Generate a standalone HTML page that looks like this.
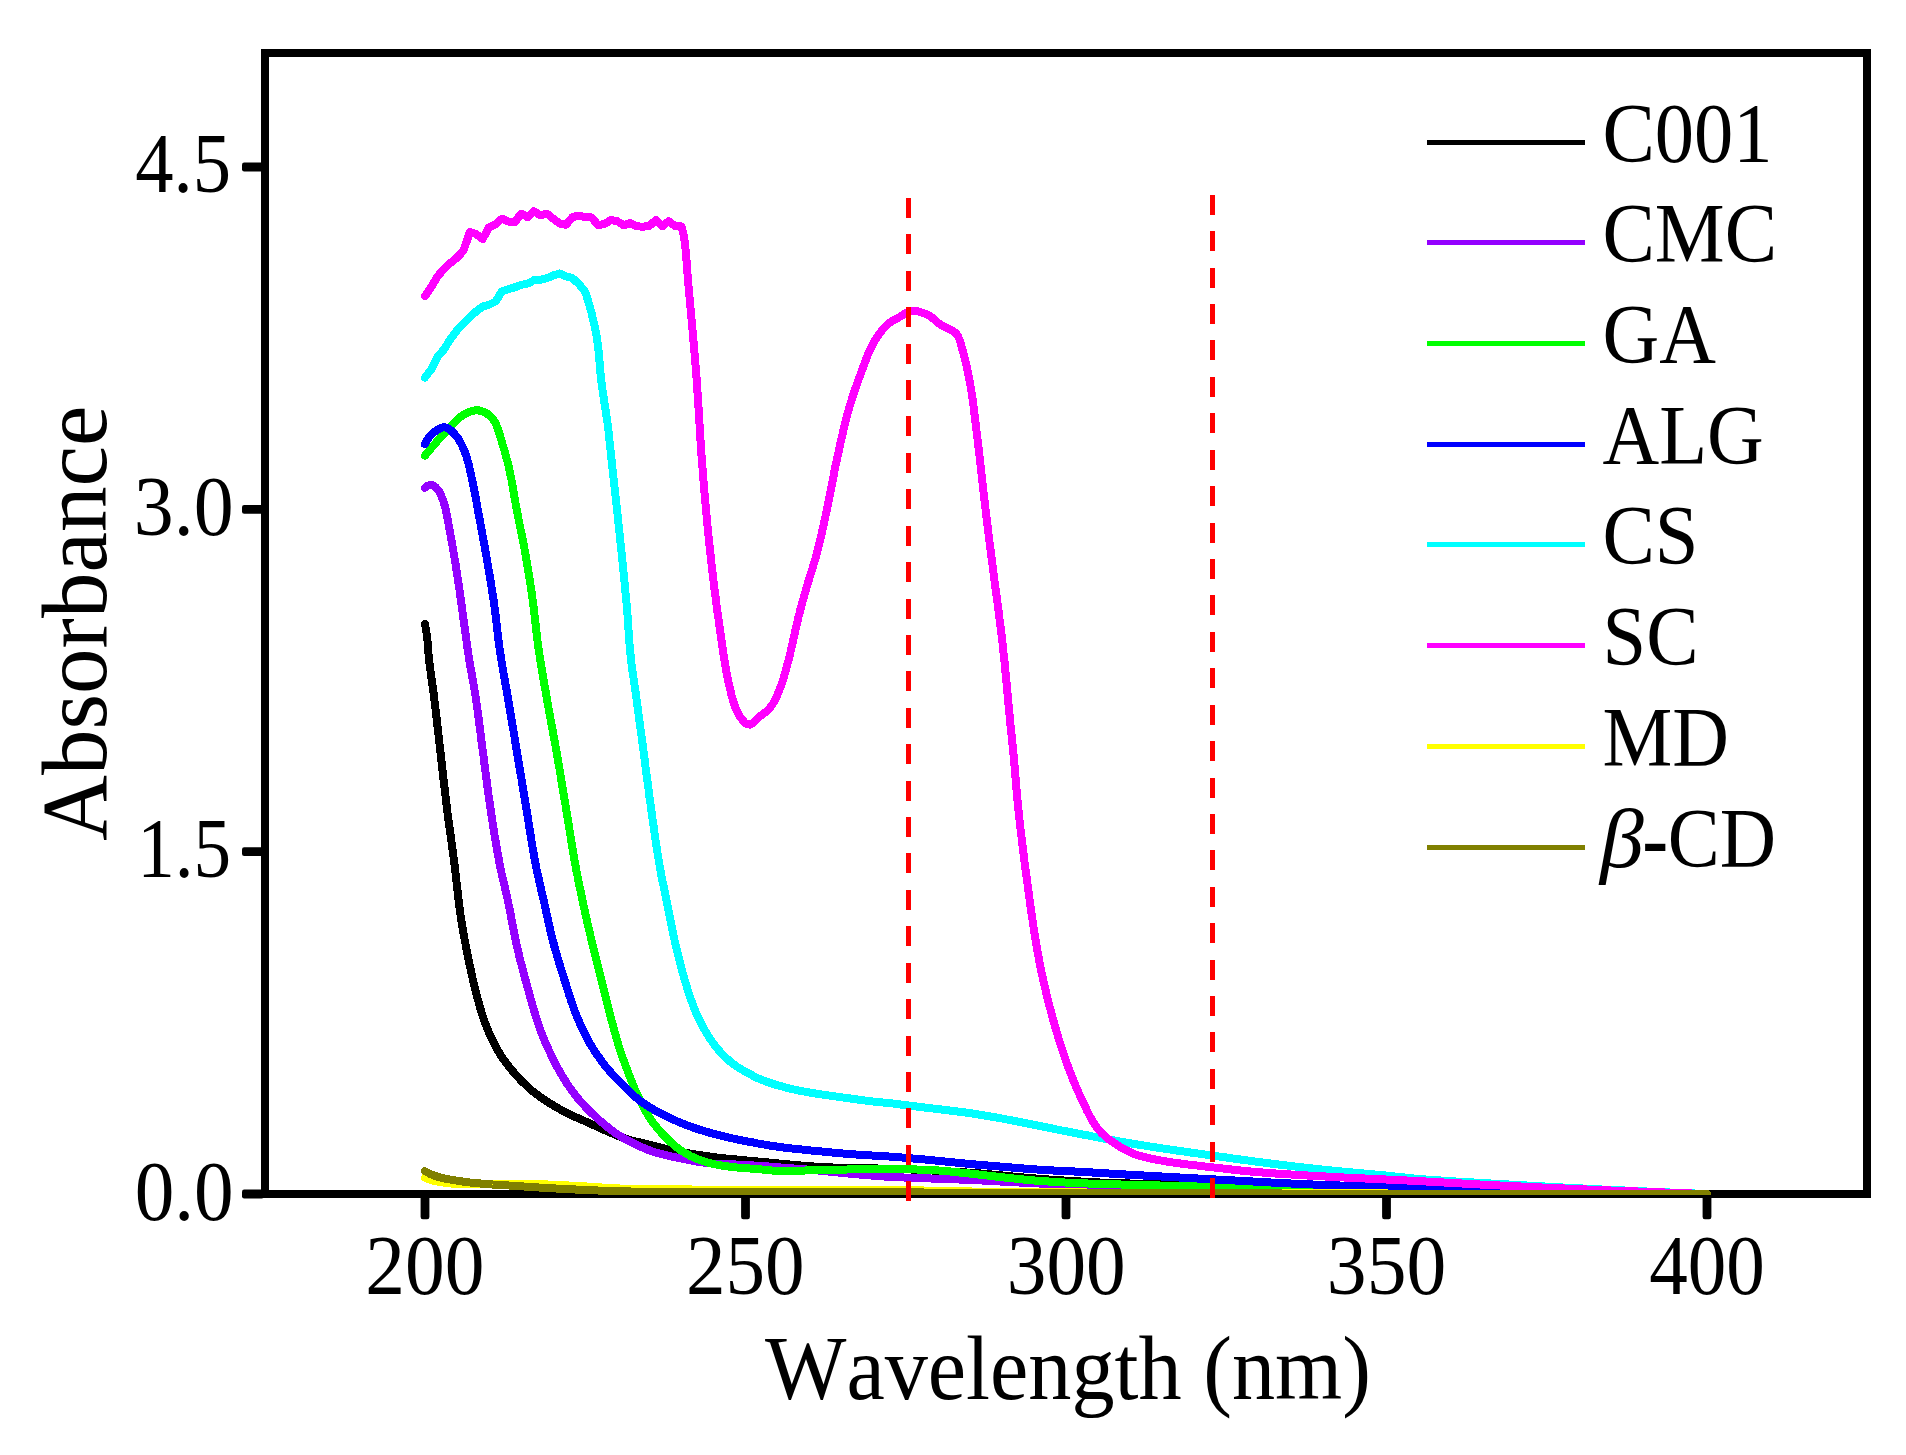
<!DOCTYPE html>
<html lang="en"><head><meta charset="utf-8"><title>UV absorbance spectra</title>
<style>
html,body{margin:0;padding:0;background:#fff;}
body{width:1906px;height:1455px;overflow:hidden;}
svg{display:block;}
text{font-family:"Liberation Serif","Times New Roman",serif;font-size:100px;fill:#000;font-kerning:none;}
.c{fill:none;stroke-width:8;stroke-linecap:round;stroke-linejoin:round;shape-rendering:crispEdges;}
</style></head><body>
<svg width="1906" height="1455" viewBox="0 0 1906 1455">
<rect width="1906" height="1455" fill="#fff"/>
<defs><clipPath id="cp"><rect x="265" y="53" width="1602" height="1142"/></clipPath></defs>

<g shape-rendering="crispEdges">
<rect x="265" y="53" width="1602" height="1141" fill="none" stroke="#000" stroke-width="8"/>
<rect x="242" y="162.6" width="22" height="8.8" rx="2.2" fill="#000" shape-rendering="auto"/>
<rect x="242" y="505.0" width="22" height="8.8" rx="2.2" fill="#000" shape-rendering="auto"/>
<rect x="242" y="847.2" width="22" height="8.8" rx="2.2" fill="#000" shape-rendering="auto"/>
<rect x="242" y="1189.6" width="22" height="8.8" rx="2.2" fill="#000" shape-rendering="auto"/>
<rect x="420.6" y="1194" width="8.8" height="25.2" rx="2.2" fill="#000" shape-rendering="auto"/>
<rect x="741.1" y="1194" width="8.8" height="25.2" rx="2.2" fill="#000" shape-rendering="auto"/>
<rect x="1061.6" y="1194" width="8.8" height="25.2" rx="2.2" fill="#000" shape-rendering="auto"/>
<rect x="1382.1" y="1194" width="8.8" height="25.2" rx="2.2" fill="#000" shape-rendering="auto"/>
<rect x="1702.6" y="1194" width="8.8" height="25.2" rx="2.2" fill="#000" shape-rendering="auto"/>
</g>
<g clip-path="url(#cp)">
<polyline class="c" stroke="#000000" points="425.0,624.0 425.5,627.0 426.0,629.9 426.5,632.9 426.9,635.9 427.3,638.9 427.6,641.8 427.8,644.8 428.0,647.8 428.3,650.8 428.5,653.8 428.8,656.8 429.1,659.8 429.4,662.8 429.8,665.8 430.2,668.8 430.6,671.7 431.0,674.7 431.4,677.7 431.8,680.7 432.3,683.7 432.7,686.6 433.1,689.6 433.5,692.6 433.9,695.6 434.2,698.6 434.6,701.5 434.9,704.5 435.3,707.5 435.7,710.5 436.0,713.5 436.4,716.5 436.7,719.5 437.0,722.4 437.4,725.4 437.7,728.4 438.1,731.4 438.4,734.4 438.8,737.4 439.1,740.4 439.4,743.3 439.8,746.3 440.1,749.3 440.5,752.3 440.8,755.3 441.2,758.3 441.5,761.3 441.8,764.2 442.2,767.2 442.5,770.2 442.9,773.2 443.2,776.2 443.5,779.2 443.9,782.2 444.2,785.2 444.6,788.1 444.9,791.1 445.3,794.1 445.6,797.1 446.0,800.1 446.3,803.1 446.7,806.0 447.1,809.0 447.4,812.0 447.8,815.0 448.2,818.0 448.6,821.0 449.0,823.9 449.4,826.9 449.8,829.9 450.2,832.9 450.7,835.8 451.1,838.8 451.5,841.8 451.9,844.8 452.3,847.8 452.7,850.7 453.1,853.7 453.5,856.7 453.9,859.7 454.3,862.7 454.7,865.6 455.0,868.6 455.4,871.6 455.7,874.6 456.1,877.6 456.4,880.6 456.7,883.6 457.1,886.5 457.4,889.5 457.7,892.5 458.1,895.5 458.4,898.5 458.8,901.5 459.1,904.5 459.5,907.4 459.9,910.4 460.3,913.4 460.7,916.4 461.1,919.3 461.6,922.3 462.1,925.3 462.6,928.2 463.1,931.2 463.7,934.2 464.2,937.1 464.7,940.1 465.3,943.0 465.9,946.0 466.4,948.9 467.0,951.9 467.6,954.8 468.2,957.8 468.8,960.7 469.4,963.7 470.0,966.6 470.7,969.6 471.3,972.5 472.0,975.4 472.6,978.4 473.3,981.3 474.0,984.2 474.7,987.1 475.4,990.0 476.2,993.0 476.9,995.9 477.7,998.8 478.5,1001.7 479.3,1004.6 480.1,1007.5 480.9,1010.4 481.8,1013.3 482.7,1016.1 483.7,1019.0 484.6,1021.8 485.7,1024.6 486.8,1027.4 487.9,1030.2 489.1,1033.0 490.3,1035.7 491.6,1038.5 492.9,1041.2 494.3,1043.9 495.7,1046.6 497.1,1049.2 498.6,1051.8 500.2,1054.3 501.8,1056.8 503.5,1059.3 505.3,1061.8 507.1,1064.2 508.9,1066.6 510.8,1068.9 512.8,1071.2 514.7,1073.5 516.7,1075.8 518.7,1078.0 520.8,1080.2 522.9,1082.3 525.1,1084.4 527.3,1086.5 529.5,1088.5 531.8,1090.5 534.1,1092.3 536.5,1094.2 538.9,1096.0 541.3,1097.7 543.8,1099.4 546.4,1101.1 548.9,1102.7 551.5,1104.3 554.0,1105.8 556.6,1107.3 559.2,1108.8 561.9,1110.3 564.5,1111.7 567.2,1113.1 569.9,1114.4 572.6,1115.7 575.3,1117.0 578.1,1118.2 580.8,1119.4 583.6,1120.6 586.3,1121.8 589.1,1123.0 591.8,1124.3 594.6,1125.5 597.3,1126.8 600.0,1128.0 602.8,1129.3 605.5,1130.5 608.3,1131.7 611.0,1132.9 613.8,1134.1 616.6,1135.3 619.4,1136.4 622.2,1137.5 625.0,1138.5 627.8,1139.4 630.7,1140.2 633.6,1141.0 636.6,1141.7 639.5,1142.3 642.4,1143.0 645.4,1143.7 648.3,1144.4 651.2,1145.2 654.1,1145.9 657.0,1146.7 659.9,1147.4 662.8,1148.1 665.8,1148.8 668.7,1149.4 671.7,1150.0 674.6,1150.6 677.6,1151.2 680.5,1151.7 683.5,1152.3 686.4,1152.8 689.4,1153.4 692.3,1153.9 695.3,1154.4 698.3,1154.9 701.2,1155.3 704.2,1155.8 707.2,1156.2 710.2,1156.6 713.1,1157.0 716.1,1157.4 719.1,1157.8 722.1,1158.1 725.1,1158.4 728.1,1158.7 731.1,1159.0 734.1,1159.2 737.1,1159.5 740.1,1159.8 743.0,1160.1 746.0,1160.4 749.0,1160.7 752.0,1161.0 755.0,1161.2 758.0,1161.5 761.0,1161.8 764.0,1162.1 767.0,1162.3 770.0,1162.6 773.0,1162.9 776.0,1163.2 779.0,1163.5 782.0,1163.8 785.0,1164.0 788.0,1164.3 790.9,1164.6 793.9,1164.9 796.9,1165.1 799.9,1165.4 802.9,1165.7 805.9,1165.9 808.9,1166.1 811.9,1166.4 814.9,1166.6 817.9,1166.8 820.9,1167.0 823.9,1167.1 826.9,1167.3 829.9,1167.4 832.9,1167.5 835.9,1167.6 838.9,1167.7 841.9,1167.8 844.9,1167.9 847.9,1168.0 850.9,1168.0 853.9,1168.1 856.9,1168.1 860.0,1168.2 863.0,1168.2 866.0,1168.3 869.0,1168.3 872.0,1168.4 875.0,1168.4 878.0,1168.5 881.0,1168.6 884.0,1168.6 887.0,1168.7 890.0,1168.8 893.0,1168.9 896.0,1169.0 899.0,1169.1 902.0,1169.2 905.0,1169.3 908.0,1169.4 911.0,1169.5 914.0,1169.6 917.0,1169.8 920.0,1169.9 923.1,1170.0 926.1,1170.2 929.1,1170.3 932.1,1170.5 935.1,1170.6 938.1,1170.8 941.1,1171.0 944.1,1171.1 947.1,1171.3 950.1,1171.5 953.1,1171.7 956.1,1171.8 959.1,1172.0 962.1,1172.2 965.1,1172.4 968.1,1172.6 971.1,1172.8 974.1,1173.0 977.1,1173.2 980.1,1173.4 983.1,1173.7 986.0,1173.9 989.0,1174.2 992.0,1174.5 995.0,1174.7 998.0,1175.0 1001.0,1175.3 1004.0,1175.6 1007.0,1175.9 1010.0,1176.2 1013.0,1176.5 1016.0,1176.7 1019.0,1177.0 1022.0,1177.3 1025.0,1177.6 1028.0,1177.9 1031.0,1178.1 1033.9,1178.4 1036.9,1178.6 1039.9,1178.8 1042.9,1179.1 1045.9,1179.3 1048.9,1179.5 1051.9,1179.7 1054.9,1179.9 1057.9,1180.1 1060.9,1180.3 1063.9,1180.5 1066.9,1180.7 1069.9,1180.9 1072.9,1181.1 1075.9,1181.3 1078.9,1181.4 1081.9,1181.6 1084.9,1181.8 1087.9,1181.9 1090.9,1182.1 1093.9,1182.2 1096.9,1182.4 1099.9,1182.5 1102.9,1182.6 1105.9,1182.7 1109.0,1182.8 1112.0,1182.9 1115.0,1183.0 1118.0,1183.1 1121.0,1183.2 1124.0,1183.3 1127.0,1183.4 1130.0,1183.5 1133.0,1183.6 1136.0,1183.6 1139.0,1183.7 1142.0,1183.8 1145.0,1183.9 1148.0,1183.9 1151.0,1184.0 1154.0,1184.1 1157.0,1184.2 1160.0,1184.2 1163.0,1184.3 1166.0,1184.4 1169.0,1184.5 1172.1,1184.5 1175.1,1184.6 1178.1,1184.7 1181.1,1184.8 1184.1,1184.8 1187.1,1184.9 1190.1,1185.0 1193.1,1185.1 1196.1,1185.2 1199.1,1185.3 1202.1,1185.3 1205.1,1185.4 1208.1,1185.5 1211.1,1185.6 1214.1,1185.7 1217.1,1185.8 1220.1,1185.8 1223.1,1185.9 1226.1,1186.0 1229.1,1186.1 1232.1,1186.2 1235.2,1186.3 1238.2,1186.4 1241.2,1186.5 1244.2,1186.5 1247.2,1186.6 1250.2,1186.7 1253.2,1186.8 1256.2,1186.9 1259.2,1187.0 1262.2,1187.0 1265.2,1187.1 1268.2,1187.2 1271.2,1187.3 1274.2,1187.4 1277.2,1187.4 1280.2,1187.5 1283.2,1187.6 1286.2,1187.7 1289.2,1187.7 1292.2,1187.8 1295.2,1187.9 1298.3,1188.0 1301.3,1188.0 1304.3,1188.1 1307.3,1188.2 1310.3,1188.2 1313.3,1188.3 1316.3,1188.4 1319.3,1188.4 1322.3,1188.5 1325.3,1188.6 1328.3,1188.6 1331.3,1188.7 1334.3,1188.8 1337.3,1188.8 1340.3,1188.9 1343.3,1189.0 1346.3,1189.0 1349.3,1189.1 1352.3,1189.2 1355.3,1189.2 1358.4,1189.3 1361.4,1189.4 1364.4,1189.4 1367.4,1189.5 1370.4,1189.6 1373.4,1189.6 1376.4,1189.7 1379.4,1189.7 1382.4,1189.8 1385.4,1189.9 1388.4,1189.9 1391.4,1190.0 1394.4,1190.0 1397.4,1190.1 1400.4,1190.2 1403.4,1190.2 1406.4,1190.3 1409.4,1190.3 1412.4,1190.4 1415.5,1190.4 1418.5,1190.5 1421.5,1190.5 1424.5,1190.6 1427.5,1190.6 1430.5,1190.7 1433.5,1190.7 1436.5,1190.8 1439.5,1190.8 1442.5,1190.9 1445.5,1190.9 1448.5,1191.0 1451.5,1191.0 1454.5,1191.1 1457.5,1191.1 1460.5,1191.2 1463.5,1191.2 1466.5,1191.2 1469.6,1191.3 1472.6,1191.3 1475.6,1191.4 1478.6,1191.4 1481.6,1191.5 1484.6,1191.5 1487.6,1191.6 1490.6,1191.6 1493.6,1191.6 1496.6,1191.7 1499.6,1191.7 1502.6,1191.8 1505.6,1191.8 1508.6,1191.9 1511.6,1191.9 1514.6,1191.9 1517.6,1192.0 1520.6,1192.0 1523.7,1192.1 1526.7,1192.1 1529.7,1192.1 1532.7,1192.2 1535.7,1192.2 1538.7,1192.3 1541.7,1192.3 1544.7,1192.4 1547.7,1192.4 1550.7,1192.4 1553.7,1192.5 1556.7,1192.5 1559.7,1192.5 1562.7,1192.6 1565.7,1192.6 1568.7,1192.7 1571.7,1192.7 1574.7,1192.7 1577.8,1192.8 1580.8,1192.8 1583.8,1192.8 1586.8,1192.9 1589.8,1192.9 1592.8,1192.9 1595.8,1193.0 1598.8,1193.0 1601.8,1193.1 1604.8,1193.1 1607.8,1193.1 1610.8,1193.2 1613.8,1193.2 1616.8,1193.2 1619.8,1193.2 1622.8,1193.3 1625.8,1193.3 1628.8,1193.3 1631.9,1193.4 1634.9,1193.4 1637.9,1193.4 1640.9,1193.5 1643.9,1193.5 1646.9,1193.5 1649.9,1193.5 1652.9,1193.6 1655.9,1193.6 1658.9,1193.6 1661.9,1193.7 1664.9,1193.7 1667.9,1193.7 1670.9,1193.7 1673.9,1193.8 1676.9,1193.8 1679.9,1193.8 1683.0,1193.8 1686.0,1193.9 1689.0,1193.9 1692.0,1193.9 1695.0,1193.9 1698.0,1193.9 1701.0,1194.0 1704.0,1194.0 1707.0,1194.0"/>
<polyline class="c" stroke="#9400ff" points="425.0,487.7 427.8,485.7 430.5,484.9 433.2,485.5 435.8,487.4 437.9,489.7 439.4,492.0 440.8,494.7 442.0,497.5 443.1,500.5 444.0,503.5 444.9,506.3 445.6,509.2 446.2,512.2 446.8,515.1 447.4,518.1 447.9,521.1 448.5,524.0 449.0,527.0 449.6,530.0 450.1,532.9 450.7,535.9 451.2,538.8 451.8,541.8 452.3,544.8 452.8,547.7 453.3,550.7 453.8,553.7 454.3,556.6 454.8,559.6 455.3,562.6 455.8,565.5 456.2,568.5 456.7,571.5 457.1,574.5 457.6,577.4 458.0,580.4 458.5,583.4 458.9,586.4 459.4,589.3 459.8,592.3 460.2,595.3 460.6,598.3 461.1,601.3 461.5,604.2 461.9,607.2 462.3,610.2 462.7,613.2 463.1,616.2 463.5,619.1 463.9,622.1 464.3,625.1 464.8,628.1 465.2,631.1 465.6,634.1 466.0,637.0 466.4,640.0 466.8,643.0 467.2,646.0 467.6,649.0 468.0,651.9 468.5,654.9 468.9,657.9 469.4,660.9 469.9,663.8 470.4,666.8 471.0,669.8 471.5,672.7 472.0,675.7 472.6,678.6 473.1,681.6 473.6,684.6 474.1,687.5 474.6,690.5 475.1,693.5 475.6,696.4 476.0,699.4 476.4,702.4 476.9,705.4 477.3,708.4 477.7,711.3 478.1,714.3 478.5,717.3 478.9,720.3 479.2,723.3 479.6,726.3 480.0,729.2 480.4,732.2 480.8,735.2 481.1,738.2 481.5,741.2 481.9,744.2 482.3,747.2 482.7,750.1 483.1,753.1 483.5,756.1 483.9,759.1 484.2,762.1 484.6,765.1 485.0,768.1 485.4,771.0 485.8,774.0 486.2,777.0 486.6,780.0 486.9,783.0 487.3,786.0 487.7,788.9 488.1,791.9 488.5,794.9 488.9,797.9 489.4,800.9 489.8,803.8 490.2,806.8 490.7,809.8 491.1,812.8 491.5,815.8 492.0,818.7 492.5,821.7 492.9,824.7 493.4,827.7 493.9,830.6 494.3,833.6 494.8,836.6 495.3,839.5 495.8,842.5 496.3,845.5 496.8,848.4 497.3,851.4 497.9,854.4 498.4,857.3 499.0,860.3 499.5,863.2 500.1,866.2 500.7,869.1 501.3,872.1 501.9,875.0 502.6,878.0 503.3,880.9 504.0,883.8 504.7,886.7 505.4,889.7 506.0,892.6 506.7,895.5 507.4,898.5 508.0,901.4 508.6,904.4 509.2,907.3 509.8,910.3 510.4,913.2 510.9,916.2 511.5,919.1 512.1,922.1 512.6,925.1 513.2,928.0 513.8,931.0 514.4,933.9 515.0,936.9 515.6,939.8 516.2,942.8 516.9,945.7 517.5,948.6 518.2,951.5 518.9,954.5 519.6,957.4 520.3,960.3 521.1,963.2 521.8,966.1 522.6,969.1 523.4,972.0 524.2,974.9 524.9,977.8 525.7,980.7 526.5,983.6 527.3,986.5 528.1,989.4 528.9,992.3 529.7,995.2 530.5,998.1 531.4,1001.0 532.2,1003.9 533.0,1006.8 533.8,1009.7 534.7,1012.6 535.5,1015.5 536.4,1018.4 537.3,1021.2 538.3,1024.1 539.2,1026.9 540.2,1029.7 541.3,1032.5 542.4,1035.3 543.5,1038.1 544.7,1040.9 545.9,1043.7 547.2,1046.4 548.4,1049.2 549.7,1051.9 551.0,1054.6 552.3,1057.3 553.6,1060.0 555.0,1062.7 556.4,1065.4 557.8,1068.1 559.2,1070.7 560.7,1073.3 562.2,1075.9 563.8,1078.5 565.4,1081.0 567.0,1083.6 568.7,1086.1 570.4,1088.5 572.2,1091.0 574.0,1093.4 575.8,1095.8 577.7,1098.1 579.6,1100.4 581.6,1102.7 583.6,1104.9 585.7,1107.1 587.8,1109.3 590.0,1111.4 592.1,1113.5 594.3,1115.5 596.6,1117.6 598.8,1119.6 601.1,1121.6 603.3,1123.5 605.6,1125.5 608.0,1127.4 610.3,1129.3 612.7,1131.1 615.2,1132.9 617.7,1134.5 620.2,1136.1 622.8,1137.7 625.4,1139.2 628.0,1140.6 630.7,1142.0 633.4,1143.4 636.1,1144.7 638.9,1145.9 641.6,1147.2 644.4,1148.3 647.2,1149.5 650.0,1150.6 652.8,1151.6 655.7,1152.5 658.6,1153.3 661.5,1154.1 664.4,1154.8 667.3,1155.5 670.3,1156.2 673.2,1156.8 676.2,1157.5 679.1,1158.1 682.0,1158.7 685.0,1159.3 687.9,1159.9 690.9,1160.5 693.9,1161.0 696.8,1161.5 699.8,1162.0 702.8,1162.5 705.8,1163.0 708.7,1163.3 711.7,1163.6 714.7,1163.8 717.7,1163.9 720.7,1164.0 723.7,1164.1 726.7,1164.2 729.8,1164.3 732.8,1164.4 735.8,1164.5 738.8,1164.6 741.8,1164.8 744.8,1164.9 747.8,1165.1 750.8,1165.3 753.8,1165.5 756.8,1165.7 759.8,1165.9 762.8,1166.1 765.8,1166.3 768.8,1166.5 771.8,1166.8 774.8,1167.0 777.8,1167.2 780.8,1167.5 783.8,1167.7 786.8,1168.0 789.8,1168.2 792.8,1168.4 795.8,1168.7 798.8,1168.9 801.8,1169.1 804.8,1169.4 807.8,1169.6 810.8,1169.9 813.8,1170.2 816.8,1170.4 819.8,1170.7 822.8,1171.0 825.8,1171.3 828.8,1171.6 831.8,1171.9 834.8,1172.2 837.8,1172.5 840.8,1172.8 843.8,1173.1 846.8,1173.4 849.8,1173.7 852.8,1173.9 855.8,1174.2 858.8,1174.5 861.8,1174.8 864.8,1175.0 867.8,1175.3 870.8,1175.5 873.8,1175.8 876.8,1176.0 879.8,1176.2 882.8,1176.4 885.8,1176.6 888.8,1176.8 891.8,1176.9 894.8,1177.1 897.8,1177.2 900.8,1177.4 903.8,1177.5 906.8,1177.6 909.8,1177.8 912.8,1177.9 915.8,1178.0 918.8,1178.1 921.8,1178.2 924.8,1178.3 927.8,1178.4 930.8,1178.5 933.9,1178.6 936.9,1178.7 939.9,1178.8 942.9,1178.9 945.9,1179.0 948.9,1179.1 951.9,1179.2 954.9,1179.3 957.9,1179.4 960.9,1179.6 963.9,1179.7 966.9,1179.8 969.9,1179.9 973.0,1180.1 976.0,1180.2 979.0,1180.4 982.0,1180.5 985.0,1180.7 988.0,1180.8 991.0,1181.0 994.0,1181.1 997.0,1181.3 1000.0,1181.5 1003.0,1181.6 1006.0,1181.8 1009.0,1181.9 1012.0,1182.1 1015.0,1182.3 1018.0,1182.4 1021.0,1182.6 1024.0,1182.7 1027.1,1182.9 1030.1,1183.0 1033.1,1183.2 1036.1,1183.3 1039.1,1183.5 1042.1,1183.6 1045.1,1183.7 1048.1,1183.9 1051.1,1184.0 1054.1,1184.1 1057.1,1184.3 1060.1,1184.4 1063.1,1184.5 1066.1,1184.7 1069.1,1184.8 1072.1,1184.9 1075.1,1185.0 1078.2,1185.2 1081.2,1185.3 1084.2,1185.4 1087.2,1185.5 1090.2,1185.6 1093.2,1185.8 1096.2,1185.9 1099.2,1186.0 1102.2,1186.1 1105.2,1186.2 1108.2,1186.3 1111.2,1186.4 1114.2,1186.5 1117.2,1186.6 1120.3,1186.7 1123.3,1186.8 1126.3,1186.9 1129.3,1187.0 1132.3,1187.1 1135.3,1187.2 1138.3,1187.3 1141.3,1187.4 1144.3,1187.5 1147.3,1187.6 1150.3,1187.7 1153.3,1187.8 1156.4,1187.9 1159.4,1187.9 1162.4,1188.0 1165.4,1188.1 1168.4,1188.2 1171.4,1188.3 1174.4,1188.4 1177.4,1188.5 1180.4,1188.5 1183.4,1188.6 1186.4,1188.7 1189.4,1188.8 1192.4,1188.8 1195.5,1188.9 1198.5,1189.0 1201.5,1189.0 1204.5,1189.1 1207.5,1189.2 1210.5,1189.2 1213.5,1189.3 1216.5,1189.4 1219.5,1189.4 1222.5,1189.5 1225.5,1189.5 1228.6,1189.6 1231.6,1189.7 1234.6,1189.7 1237.6,1189.8 1240.6,1189.8 1243.6,1189.9 1246.6,1190.0 1249.6,1190.0 1252.6,1190.1 1255.6,1190.1 1258.6,1190.2 1261.6,1190.2 1264.7,1190.3 1267.7,1190.3 1270.7,1190.4 1273.7,1190.4 1276.7,1190.5 1279.7,1190.5 1282.7,1190.6 1285.7,1190.6 1288.7,1190.7 1291.7,1190.7 1294.7,1190.8 1297.8,1190.8 1300.8,1190.9 1303.8,1190.9 1306.8,1191.0 1309.8,1191.0 1312.8,1191.0 1315.8,1191.1 1318.8,1191.1 1321.8,1191.2 1324.8,1191.2 1327.8,1191.2 1330.9,1191.3 1333.9,1191.3 1336.9,1191.4 1339.9,1191.4 1342.9,1191.4 1345.9,1191.5 1348.9,1191.5 1351.9,1191.5 1354.9,1191.6 1357.9,1191.6 1360.9,1191.6 1364.0,1191.6 1367.0,1191.7 1370.0,1191.7 1373.0,1191.7 1376.0,1191.8 1379.0,1191.8 1382.0,1191.8 1385.0,1191.9 1388.0,1191.9 1391.0,1191.9 1394.0,1192.0 1397.1,1192.0 1400.1,1192.0 1403.1,1192.0 1406.1,1192.1 1409.1,1192.1 1412.1,1192.1 1415.1,1192.2 1418.1,1192.2 1421.1,1192.2 1424.1,1192.3 1427.1,1192.3 1430.2,1192.3 1433.2,1192.4 1436.2,1192.4 1439.2,1192.4 1442.2,1192.4 1445.2,1192.5 1448.2,1192.5 1451.2,1192.5 1454.2,1192.6 1457.2,1192.6 1460.2,1192.6 1463.3,1192.6 1466.3,1192.7 1469.3,1192.7 1472.3,1192.7 1475.3,1192.8 1478.3,1192.8 1481.3,1192.8 1484.3,1192.8 1487.3,1192.9 1490.3,1192.9 1493.3,1192.9 1496.4,1192.9 1499.4,1193.0 1502.4,1193.0 1505.4,1193.0 1508.4,1193.0 1511.4,1193.1 1514.4,1193.1 1517.4,1193.1 1520.4,1193.1 1523.4,1193.2 1526.4,1193.2 1529.5,1193.2 1532.5,1193.2 1535.5,1193.3 1538.5,1193.3 1541.5,1193.3 1544.5,1193.3 1547.5,1193.4 1550.5,1193.4 1553.5,1193.4 1556.5,1193.4 1559.5,1193.4 1562.6,1193.5 1565.6,1193.5 1568.6,1193.5 1571.6,1193.5 1574.6,1193.5 1577.6,1193.6 1580.6,1193.6 1583.6,1193.6 1586.6,1193.6 1589.6,1193.6 1592.6,1193.6 1595.7,1193.7 1598.7,1193.7 1601.7,1193.7 1604.7,1193.7 1607.7,1193.7 1610.7,1193.7 1613.7,1193.8 1616.7,1193.8 1619.7,1193.8 1622.7,1193.8 1625.7,1193.8 1628.8,1193.8 1631.8,1193.8 1634.8,1193.8 1637.8,1193.9 1640.8,1193.9 1643.8,1193.9 1646.8,1193.9 1649.8,1193.9 1652.8,1193.9 1655.8,1193.9 1658.8,1193.9 1661.9,1193.9 1664.9,1193.9 1667.9,1194.0 1670.9,1194.0 1673.9,1194.0 1676.9,1194.0 1679.9,1194.0 1682.9,1194.0 1685.9,1194.0 1688.9,1194.0 1692.0,1194.0 1695.0,1194.0 1698.0,1194.0 1701.0,1194.0 1704.0,1194.0 1707.0,1194.0"/>
<polyline class="c" stroke="#00ff00" points="425.0,455.6 426.9,453.3 428.8,451.0 430.8,448.7 432.7,446.4 434.7,444.1 436.7,441.8 438.6,439.6 440.6,437.3 442.6,435.0 444.7,432.8 446.7,430.6 448.8,428.4 450.8,426.2 452.9,423.9 455.0,421.8 457.1,419.7 459.4,417.7 461.8,416.0 464.3,414.3 467.0,412.9 469.8,411.8 472.7,410.8 475.7,410.2 478.6,410.4 481.6,411.2 484.5,412.3 487.0,413.6 489.4,415.5 491.7,417.8 493.6,420.2 495.1,422.6 496.4,425.2 497.5,427.9 498.5,430.8 499.4,433.7 500.3,436.7 501.2,439.7 502.1,442.6 502.9,445.5 503.8,448.3 504.6,451.2 505.5,454.1 506.2,457.0 507.0,459.9 507.8,462.9 508.5,465.8 509.2,468.7 509.8,471.6 510.4,474.6 511.0,477.5 511.6,480.5 512.1,483.4 512.7,486.4 513.2,489.4 513.7,492.3 514.2,495.3 514.7,498.3 515.2,501.2 515.7,504.2 516.3,507.2 516.8,510.1 517.4,513.1 517.9,516.0 518.5,519.0 519.1,521.9 519.7,524.9 520.3,527.8 520.9,530.8 521.5,533.7 522.1,536.7 522.7,539.6 523.3,542.6 523.9,545.5 524.4,548.5 525.0,551.4 525.5,554.4 526.0,557.4 526.5,560.3 527.0,563.3 527.5,566.3 528.0,569.2 528.5,572.2 529.0,575.2 529.5,578.1 529.9,581.1 530.4,584.1 530.8,587.1 531.3,590.0 531.7,593.0 532.1,596.0 532.5,599.0 532.9,602.0 533.3,604.9 533.7,607.9 534.0,610.9 534.4,613.9 534.7,616.9 535.1,619.9 535.4,622.9 535.8,625.9 536.1,628.9 536.4,631.8 536.8,634.8 537.2,637.8 537.5,640.8 537.9,643.8 538.3,646.8 538.7,649.7 539.2,652.7 539.6,655.7 540.1,658.7 540.5,661.6 541.0,664.6 541.5,667.6 542.0,670.5 542.5,673.5 543.0,676.5 543.5,679.4 544.0,682.4 544.5,685.4 545.1,688.3 545.6,691.3 546.1,694.3 546.6,697.2 547.1,700.2 547.6,703.2 548.2,706.1 548.7,709.1 549.2,712.0 549.8,715.0 550.3,718.0 550.9,720.9 551.4,723.9 552.0,726.8 552.5,729.8 553.1,732.7 553.6,735.7 554.2,738.7 554.7,741.6 555.2,744.6 555.8,747.5 556.3,750.5 556.8,753.5 557.3,756.4 557.8,759.4 558.3,762.4 558.9,765.3 559.4,768.3 559.9,771.3 560.4,774.2 560.8,777.2 561.3,780.2 561.8,783.1 562.3,786.1 562.8,789.1 563.3,792.0 563.8,795.0 564.3,798.0 564.8,800.9 565.3,803.9 565.8,806.9 566.3,809.8 566.7,812.8 567.2,815.8 567.7,818.7 568.2,821.7 568.7,824.7 569.2,827.7 569.6,830.6 570.1,833.6 570.6,836.6 571.1,839.5 571.5,842.5 572.0,845.5 572.5,848.5 573.0,851.4 573.5,854.4 574.0,857.3 574.5,860.3 575.1,863.3 575.6,866.2 576.1,869.2 576.7,872.1 577.3,875.1 577.9,878.0 578.4,881.0 579.0,883.9 579.6,886.9 580.3,889.8 580.9,892.8 581.5,895.7 582.1,898.7 582.7,901.6 583.4,904.6 584.0,907.5 584.7,910.4 585.3,913.4 586.0,916.3 586.6,919.2 587.3,922.2 587.9,925.1 588.6,928.0 589.3,931.0 590.0,933.9 590.7,936.8 591.4,939.8 592.1,942.7 592.8,945.6 593.5,948.5 594.2,951.5 594.9,954.4 595.7,957.3 596.4,960.2 597.2,963.1 597.9,966.0 598.6,969.0 599.4,971.9 600.1,974.8 600.8,977.7 601.6,980.6 602.3,983.5 603.0,986.5 603.7,989.4 604.4,992.3 605.2,995.2 605.9,998.1 606.6,1001.1 607.4,1004.0 608.1,1006.9 608.9,1009.8 609.6,1012.7 610.4,1015.6 611.1,1018.5 611.9,1021.5 612.7,1024.4 613.4,1027.3 614.2,1030.2 615.0,1033.1 615.8,1036.0 616.6,1038.9 617.5,1041.8 618.3,1044.6 619.2,1047.5 620.2,1050.4 621.1,1053.2 622.1,1056.1 623.1,1058.9 624.1,1061.7 625.2,1064.6 626.2,1067.4 627.3,1070.2 628.4,1073.0 629.4,1075.8 630.5,1078.6 631.6,1081.4 632.8,1084.2 633.9,1087.0 635.1,1089.8 636.3,1092.5 637.5,1095.3 638.8,1098.0 640.1,1100.7 641.5,1103.4 642.9,1106.1 644.3,1108.7 645.8,1111.4 647.3,1114.0 648.9,1116.5 650.5,1119.0 652.2,1121.4 654.0,1123.9 655.9,1126.3 657.8,1128.6 659.8,1130.9 661.8,1133.2 663.8,1135.4 665.9,1137.5 668.0,1139.6 670.2,1141.7 672.5,1143.8 674.8,1145.7 677.1,1147.6 679.5,1149.4 682.0,1151.0 684.5,1152.7 687.2,1154.2 689.8,1155.7 692.5,1157.0 695.3,1158.2 698.0,1159.3 700.9,1160.4 703.7,1161.3 706.6,1162.2 709.5,1163.0 712.4,1163.7 715.4,1164.4 718.3,1164.9 721.3,1165.5 724.3,1165.9 727.3,1166.4 730.2,1166.7 733.2,1167.1 736.2,1167.4 739.2,1167.7 742.2,1167.9 745.2,1168.2 748.2,1168.4 751.2,1168.6 754.2,1168.8 757.2,1169.1 760.2,1169.3 763.2,1169.6 766.2,1169.9 769.2,1170.2 772.2,1170.5 775.2,1170.6 778.2,1170.7 781.2,1170.7 784.2,1170.7 787.2,1170.7 790.2,1170.6 793.2,1170.6 796.2,1170.6 799.3,1170.5 802.3,1170.5 805.3,1170.5 808.3,1170.4 811.3,1170.4 814.3,1170.3 817.3,1170.3 820.3,1170.2 823.3,1170.1 826.3,1170.1 829.3,1170.0 832.3,1169.9 835.4,1169.8 838.4,1169.7 841.4,1169.7 844.4,1169.6 847.4,1169.5 850.4,1169.4 853.4,1169.4 856.4,1169.4 859.4,1169.3 862.4,1169.3 865.4,1169.2 868.4,1169.2 871.4,1169.1 874.5,1169.1 877.5,1169.1 880.5,1169.0 883.5,1169.0 886.5,1169.0 889.5,1169.0 892.5,1169.0 895.5,1169.0 898.5,1169.0 901.5,1169.1 904.5,1169.1 907.6,1169.2 910.6,1169.3 913.6,1169.4 916.6,1169.5 919.6,1169.6 922.6,1169.7 925.6,1169.8 928.6,1169.9 931.6,1170.0 934.6,1170.2 937.6,1170.4 940.6,1170.6 943.6,1170.9 946.6,1171.1 949.6,1171.4 952.6,1171.7 955.6,1172.0 958.6,1172.4 961.6,1172.7 964.6,1173.0 967.6,1173.3 970.5,1173.6 973.5,1173.9 976.5,1174.3 979.5,1174.6 982.5,1175.0 985.5,1175.3 988.5,1175.7 991.5,1176.0 994.5,1176.4 997.4,1176.7 1000.4,1177.1 1003.4,1177.4 1006.4,1177.7 1009.4,1178.0 1012.4,1178.3 1015.4,1178.7 1018.4,1179.0 1021.4,1179.3 1024.4,1179.6 1027.4,1179.9 1030.4,1180.1 1033.4,1180.4 1036.4,1180.7 1039.4,1180.9 1042.4,1181.1 1045.4,1181.3 1048.4,1181.5 1051.4,1181.7 1054.4,1181.9 1057.4,1182.1 1060.4,1182.2 1063.4,1182.4 1066.4,1182.6 1069.4,1182.7 1072.4,1182.9 1075.4,1183.0 1078.4,1183.1 1081.4,1183.3 1084.4,1183.4 1087.4,1183.5 1090.4,1183.6 1093.4,1183.7 1096.4,1183.8 1099.4,1183.9 1102.4,1184.0 1105.5,1184.1 1108.5,1184.2 1111.5,1184.2 1114.5,1184.3 1117.5,1184.4 1120.5,1184.5 1123.5,1184.6 1126.5,1184.7 1129.5,1184.7 1132.5,1184.8 1135.5,1184.9 1138.5,1185.0 1141.5,1185.1 1144.5,1185.1 1147.6,1185.2 1150.6,1185.3 1153.6,1185.3 1156.6,1185.4 1159.6,1185.5 1162.6,1185.6 1165.6,1185.6 1168.6,1185.7 1171.6,1185.8 1174.6,1185.9 1177.6,1185.9 1180.6,1186.0 1183.6,1186.1 1186.7,1186.2 1189.7,1186.3 1192.7,1186.3 1195.7,1186.4 1198.7,1186.5 1201.7,1186.6 1204.7,1186.7 1207.7,1186.8 1210.7,1186.9 1213.7,1187.0 1216.7,1187.0 1219.7,1187.1 1222.7,1187.3 1225.7,1187.4 1228.7,1187.5 1231.8,1187.6 1234.8,1187.7 1237.8,1187.8 1240.8,1187.9 1243.8,1188.0 1246.8,1188.1 1249.8,1188.3 1252.8,1188.4 1255.8,1188.5 1258.8,1188.6 1261.8,1188.7 1264.8,1188.8 1267.8,1189.0 1270.8,1189.1 1273.8,1189.2 1276.8,1189.3 1279.9,1189.4 1282.9,1189.5 1285.9,1189.6 1288.9,1189.7 1291.9,1189.8 1294.9,1189.9 1297.9,1189.9 1300.9,1190.0 1303.9,1190.1 1306.9,1190.2 1309.9,1190.3 1312.9,1190.3 1315.9,1190.4 1318.9,1190.5 1322.0,1190.5 1325.0,1190.6 1328.0,1190.7 1331.0,1190.8 1334.0,1190.8 1337.0,1190.9 1340.0,1191.0 1343.0,1191.0 1346.0,1191.1 1349.0,1191.2 1352.0,1191.2 1355.0,1191.3 1358.0,1191.3 1361.1,1191.4 1364.1,1191.5 1367.1,1191.5 1370.1,1191.6 1373.1,1191.6 1376.1,1191.7 1379.1,1191.7 1382.1,1191.8 1385.1,1191.8 1388.1,1191.9 1391.1,1191.9 1394.1,1191.9 1397.1,1192.0 1400.2,1192.0 1403.2,1192.0 1406.2,1192.1 1409.2,1192.1 1412.2,1192.1 1415.2,1192.2 1418.2,1192.2 1421.2,1192.2 1424.2,1192.3 1427.2,1192.3 1430.2,1192.3 1433.2,1192.3 1436.3,1192.4 1439.3,1192.4 1442.3,1192.4 1445.3,1192.5 1448.3,1192.5 1451.3,1192.5 1454.3,1192.6 1457.3,1192.6 1460.3,1192.6 1463.3,1192.6 1466.3,1192.7 1469.3,1192.7 1472.3,1192.7 1475.4,1192.8 1478.4,1192.8 1481.4,1192.8 1484.4,1192.8 1487.4,1192.9 1490.4,1192.9 1493.4,1192.9 1496.4,1193.0 1499.4,1193.0 1502.4,1193.0 1505.4,1193.0 1508.4,1193.1 1511.5,1193.1 1514.5,1193.1 1517.5,1193.1 1520.5,1193.2 1523.5,1193.2 1526.5,1193.2 1529.5,1193.2 1532.5,1193.3 1535.5,1193.3 1538.5,1193.3 1541.5,1193.3 1544.5,1193.3 1547.6,1193.4 1550.6,1193.4 1553.6,1193.4 1556.6,1193.4 1559.6,1193.5 1562.6,1193.5 1565.6,1193.5 1568.6,1193.5 1571.6,1193.5 1574.6,1193.6 1577.6,1193.6 1580.6,1193.6 1583.7,1193.6 1586.7,1193.6 1589.7,1193.6 1592.7,1193.7 1595.7,1193.7 1598.7,1193.7 1601.7,1193.7 1604.7,1193.7 1607.7,1193.7 1610.7,1193.8 1613.7,1193.8 1616.7,1193.8 1619.8,1193.8 1622.8,1193.8 1625.8,1193.8 1628.8,1193.8 1631.8,1193.8 1634.8,1193.9 1637.8,1193.9 1640.8,1193.9 1643.8,1193.9 1646.8,1193.9 1649.8,1193.9 1652.8,1193.9 1655.9,1193.9 1658.9,1193.9 1661.9,1193.9 1664.9,1194.0 1667.9,1194.0 1670.9,1194.0 1673.9,1194.0 1676.9,1194.0 1679.9,1194.0 1682.9,1194.0 1685.9,1194.0 1688.9,1194.0 1692.0,1194.0 1695.0,1194.0 1698.0,1194.0 1701.0,1194.0 1704.0,1194.0 1707.0,1194.0"/>
<polyline class="c" stroke="#0000ff" points="425.0,444.3 426.4,441.4 428.1,438.7 429.9,436.2 432.0,434.0 434.1,432.2 436.5,430.5 439.2,428.8 442.1,427.6 444.8,427.2 447.4,428.0 450.0,429.7 452.5,431.9 454.8,434.3 456.7,436.7 458.4,439.0 459.9,441.5 461.4,444.2 462.7,447.0 464.0,449.8 465.1,452.7 466.1,455.5 467.0,458.4 467.8,461.2 468.6,464.1 469.3,467.1 470.0,470.0 470.6,473.0 471.3,475.9 471.9,478.9 472.6,481.8 473.2,484.7 473.8,487.7 474.3,490.6 474.9,493.6 475.5,496.6 476.0,499.5 476.6,502.5 477.1,505.4 477.6,508.4 478.2,511.3 478.7,514.3 479.3,517.3 479.8,520.2 480.4,523.2 480.9,526.1 481.5,529.1 482.0,532.1 482.5,535.0 483.1,538.0 483.6,540.9 484.2,543.9 484.7,546.8 485.2,549.8 485.7,552.8 486.3,555.7 486.8,558.7 487.3,561.7 487.8,564.6 488.3,567.6 488.8,570.6 489.3,573.5 489.8,576.5 490.3,579.5 490.8,582.4 491.3,585.4 491.7,588.4 492.2,591.3 492.7,594.3 493.1,597.3 493.6,600.3 494.0,603.2 494.4,606.2 494.8,609.2 495.2,612.2 495.6,615.1 495.9,618.1 496.3,621.1 496.6,624.1 497.0,627.1 497.3,630.1 497.6,633.1 498.0,636.1 498.3,639.1 498.7,642.0 499.1,645.0 499.5,648.0 499.9,651.0 500.4,653.9 500.8,656.9 501.3,659.9 501.8,662.9 502.3,665.8 502.8,668.8 503.3,671.7 503.8,674.7 504.4,677.7 504.9,680.6 505.4,683.6 505.9,686.6 506.5,689.5 507.0,692.5 507.5,695.4 508.0,698.4 508.5,701.4 509.0,704.3 509.5,707.3 510.0,710.3 510.5,713.2 511.0,716.2 511.5,719.2 512.0,722.1 512.5,725.1 513.0,728.1 513.5,731.0 514.0,734.0 514.5,737.0 515.0,739.9 515.4,742.9 515.9,745.9 516.4,748.8 516.9,751.8 517.4,754.8 517.9,757.7 518.4,760.7 518.9,763.7 519.4,766.6 519.9,769.6 520.4,772.6 520.9,775.5 521.4,778.5 521.9,781.5 522.3,784.4 522.8,787.4 523.3,790.4 523.8,793.3 524.3,796.3 524.8,799.3 525.3,802.2 525.8,805.2 526.3,808.2 526.8,811.1 527.3,814.1 527.7,817.1 528.2,820.0 528.7,823.0 529.2,826.0 529.6,829.0 530.1,831.9 530.6,834.9 531.1,837.9 531.5,840.8 532.0,843.8 532.5,846.8 533.0,849.8 533.5,852.7 534.0,855.7 534.6,858.6 535.1,861.6 535.7,864.5 536.2,867.5 536.8,870.4 537.5,873.4 538.1,876.3 538.8,879.2 539.4,882.2 540.1,885.1 540.8,888.0 541.5,891.0 542.2,893.9 542.9,896.8 543.5,899.8 544.2,902.7 544.9,905.6 545.5,908.6 546.1,911.5 546.8,914.4 547.4,917.4 548.1,920.3 548.7,923.3 549.4,926.2 550.1,929.1 550.7,932.1 551.4,935.0 552.2,937.9 552.9,940.8 553.7,943.7 554.4,946.6 555.2,949.5 556.1,952.4 556.9,955.3 557.8,958.2 558.7,961.1 559.5,963.9 560.4,966.8 561.3,969.7 562.2,972.5 563.1,975.4 564.0,978.3 564.9,981.2 565.8,984.0 566.7,986.9 567.6,989.8 568.5,992.7 569.4,995.5 570.4,998.4 571.3,1001.3 572.3,1004.1 573.3,1006.9 574.3,1009.8 575.4,1012.6 576.5,1015.3 577.6,1018.1 578.8,1020.9 580.0,1023.7 581.2,1026.4 582.5,1029.1 583.8,1031.9 585.2,1034.6 586.6,1037.2 588.0,1039.9 589.4,1042.5 590.9,1045.1 592.5,1047.7 594.1,1050.2 595.7,1052.7 597.4,1055.3 599.2,1057.7 600.9,1060.2 602.7,1062.6 604.5,1064.9 606.4,1067.3 608.3,1069.6 610.3,1071.9 612.3,1074.1 614.4,1076.3 616.4,1078.5 618.5,1080.7 620.6,1082.8 622.8,1085.0 624.9,1087.1 627.0,1089.2 629.2,1091.3 631.4,1093.4 633.6,1095.5 635.9,1097.4 638.2,1099.4 640.6,1101.2 643.0,1102.9 645.4,1104.6 647.9,1106.2 650.5,1107.8 653.1,1109.3 655.8,1110.8 658.5,1112.2 661.1,1113.6 663.8,1115.0 666.5,1116.3 669.2,1117.7 671.9,1118.9 674.7,1120.2 677.4,1121.4 680.2,1122.6 683.0,1123.7 685.8,1124.8 688.6,1125.9 691.4,1126.9 694.2,1127.9 697.1,1128.9 700.0,1129.8 702.8,1130.7 705.7,1131.6 708.6,1132.4 711.5,1133.2 714.4,1134.0 717.3,1134.8 720.2,1135.5 723.1,1136.2 726.1,1136.9 729.0,1137.6 731.9,1138.3 734.9,1138.9 737.8,1139.5 740.8,1140.1 743.7,1140.7 746.7,1141.3 749.6,1141.9 752.6,1142.4 755.5,1143.0 758.5,1143.6 761.4,1144.1 764.4,1144.6 767.4,1145.1 770.3,1145.6 773.3,1146.1 776.3,1146.5 779.3,1146.9 782.2,1147.3 785.2,1147.7 788.2,1148.0 791.2,1148.4 794.2,1148.7 797.2,1149.0 800.2,1149.3 803.2,1149.7 806.2,1150.0 809.1,1150.3 812.1,1150.6 815.1,1150.9 818.1,1151.2 821.1,1151.4 824.1,1151.7 827.1,1152.0 830.1,1152.3 833.1,1152.6 836.1,1152.9 839.1,1153.1 842.1,1153.4 845.1,1153.7 848.1,1153.9 851.1,1154.1 854.1,1154.4 857.1,1154.6 860.1,1154.8 863.1,1155.0 866.1,1155.1 869.1,1155.3 872.1,1155.5 875.1,1155.7 878.1,1155.9 881.1,1156.0 884.1,1156.2 887.1,1156.4 890.1,1156.6 893.1,1156.8 896.1,1157.1 899.1,1157.3 902.1,1157.5 905.1,1157.8 908.1,1158.0 911.1,1158.3 914.1,1158.6 917.1,1158.8 920.1,1159.1 923.1,1159.4 926.1,1159.6 929.0,1159.9 932.0,1160.2 935.0,1160.5 938.0,1160.8 941.0,1161.1 944.0,1161.4 947.0,1161.7 950.0,1162.0 953.0,1162.3 956.0,1162.6 959.0,1163.0 962.0,1163.2 965.0,1163.5 967.9,1163.8 970.9,1164.1 973.9,1164.4 976.9,1164.6 979.9,1164.9 982.9,1165.1 985.9,1165.4 988.9,1165.6 991.9,1165.9 994.9,1166.1 997.9,1166.4 1000.9,1166.6 1003.9,1166.9 1006.9,1167.1 1009.9,1167.4 1012.9,1167.6 1015.9,1167.9 1018.9,1168.1 1021.9,1168.4 1024.9,1168.6 1027.9,1168.9 1030.9,1169.1 1033.9,1169.3 1036.9,1169.5 1039.9,1169.8 1042.9,1169.9 1045.9,1170.1 1048.9,1170.3 1051.9,1170.4 1054.9,1170.6 1057.9,1170.7 1060.9,1170.9 1063.9,1171.0 1066.9,1171.1 1069.9,1171.3 1072.9,1171.4 1075.9,1171.6 1078.9,1171.7 1081.9,1171.9 1084.9,1172.1 1087.9,1172.3 1090.9,1172.4 1093.9,1172.6 1096.9,1172.8 1099.9,1173.0 1102.9,1173.2 1105.9,1173.3 1108.9,1173.5 1111.9,1173.7 1115.0,1173.9 1118.0,1174.0 1121.0,1174.2 1124.0,1174.4 1127.0,1174.6 1130.0,1174.7 1133.0,1174.9 1136.0,1175.1 1139.0,1175.3 1142.0,1175.4 1145.0,1175.6 1148.0,1175.8 1151.0,1175.9 1154.0,1176.1 1157.0,1176.3 1160.0,1176.4 1163.0,1176.6 1166.0,1176.8 1169.0,1176.9 1172.0,1177.1 1175.0,1177.3 1178.0,1177.4 1181.0,1177.6 1184.0,1177.8 1187.0,1177.9 1190.0,1178.1 1193.0,1178.3 1196.0,1178.4 1199.0,1178.6 1202.0,1178.8 1205.0,1178.9 1208.0,1179.1 1211.0,1179.2 1214.0,1179.4 1217.0,1179.6 1220.0,1179.7 1223.1,1179.9 1226.1,1180.0 1229.1,1180.2 1232.1,1180.4 1235.1,1180.5 1238.1,1180.7 1241.1,1180.9 1244.1,1181.0 1247.1,1181.2 1250.1,1181.4 1253.1,1181.5 1256.1,1181.7 1259.1,1181.8 1262.1,1182.0 1265.1,1182.2 1268.1,1182.3 1271.1,1182.5 1274.1,1182.6 1277.1,1182.8 1280.1,1183.0 1283.1,1183.1 1286.1,1183.3 1289.1,1183.4 1292.1,1183.6 1295.1,1183.7 1298.1,1183.8 1301.1,1184.0 1304.1,1184.1 1307.1,1184.2 1310.2,1184.4 1313.2,1184.5 1316.2,1184.6 1319.2,1184.8 1322.2,1184.9 1325.2,1185.0 1328.2,1185.1 1331.2,1185.2 1334.2,1185.3 1337.2,1185.4 1340.2,1185.5 1343.2,1185.6 1346.2,1185.7 1349.2,1185.8 1352.2,1185.9 1355.2,1186.0 1358.2,1186.1 1361.2,1186.2 1364.2,1186.3 1367.3,1186.4 1370.3,1186.5 1373.3,1186.6 1376.3,1186.7 1379.3,1186.7 1382.3,1186.8 1385.3,1186.9 1388.3,1187.0 1391.3,1187.1 1394.3,1187.2 1397.3,1187.2 1400.3,1187.3 1403.3,1187.4 1406.3,1187.5 1409.3,1187.6 1412.3,1187.7 1415.4,1187.7 1418.4,1187.8 1421.4,1187.9 1424.4,1188.0 1427.4,1188.1 1430.4,1188.2 1433.4,1188.2 1436.4,1188.3 1439.4,1188.4 1442.4,1188.5 1445.4,1188.6 1448.4,1188.7 1451.4,1188.8 1454.4,1188.9 1457.4,1188.9 1460.4,1189.0 1463.5,1189.1 1466.5,1189.2 1469.5,1189.3 1472.5,1189.4 1475.5,1189.5 1478.5,1189.6 1481.5,1189.7 1484.5,1189.8 1487.5,1189.9 1490.5,1189.9 1493.5,1190.0 1496.5,1190.1 1499.5,1190.2 1502.5,1190.3 1505.5,1190.4 1508.5,1190.5 1511.6,1190.6 1514.6,1190.6 1517.6,1190.7 1520.6,1190.8 1523.6,1190.9 1526.6,1191.0 1529.6,1191.0 1532.6,1191.1 1535.6,1191.2 1538.6,1191.3 1541.6,1191.3 1544.6,1191.4 1547.6,1191.5 1550.6,1191.5 1553.6,1191.6 1556.6,1191.6 1559.7,1191.7 1562.7,1191.8 1565.7,1191.8 1568.7,1191.9 1571.7,1191.9 1574.7,1192.0 1577.7,1192.1 1580.7,1192.1 1583.7,1192.2 1586.7,1192.2 1589.7,1192.3 1592.7,1192.3 1595.7,1192.4 1598.7,1192.5 1601.7,1192.5 1604.8,1192.6 1607.8,1192.6 1610.8,1192.7 1613.8,1192.7 1616.8,1192.8 1619.8,1192.8 1622.8,1192.9 1625.8,1192.9 1628.8,1193.0 1631.8,1193.0 1634.8,1193.1 1637.8,1193.1 1640.8,1193.2 1643.8,1193.2 1646.9,1193.3 1649.9,1193.3 1652.9,1193.4 1655.9,1193.4 1658.9,1193.4 1661.9,1193.5 1664.9,1193.5 1667.9,1193.6 1670.9,1193.6 1673.9,1193.6 1676.9,1193.7 1679.9,1193.7 1682.9,1193.8 1685.9,1193.8 1689.0,1193.8 1692.0,1193.9 1695.0,1193.9 1698.0,1193.9 1701.0,1193.9 1704.0,1194.0 1707.0,1194.0"/>
<polyline class="c" stroke="#00ffff" points="425.0,377.5 431.4,369.0 437.8,356.7 444.2,349.1 450.6,338.7 457.1,330.2 463.5,323.6 469.9,317.0 476.3,311.3 482.7,306.4 489.1,304.7 495.5,301.5 501.9,291.5 508.3,289.2 514.7,287.3 521.1,284.9 527.6,283.6 534.0,280.2 540.4,279.8 546.8,278.3 553.2,275.4 559.6,273.5 566.0,276.4 572.4,278.1 578.8,283.9 585.2,291.9 586.2,294.7 587.1,297.6 588.0,300.5 588.9,303.4 589.7,306.3 590.5,309.2 591.3,312.1 592.0,315.0 592.7,317.9 593.4,320.8 594.1,323.8 594.7,326.7 595.4,329.7 595.9,332.6 596.5,335.6 597.0,338.5 597.4,341.5 597.8,344.5 598.2,347.5 598.5,350.5 598.8,353.4 599.1,356.4 599.3,359.4 599.6,362.4 599.8,365.4 600.1,368.5 600.3,371.5 600.6,374.5 600.9,377.4 601.3,380.4 601.6,383.4 602.0,386.4 602.4,389.4 602.8,392.4 603.3,395.3 603.8,398.3 604.2,401.3 604.7,404.3 605.2,407.2 605.6,410.2 606.1,413.2 606.5,416.2 607.0,419.1 607.4,422.1 607.8,425.1 608.1,428.1 608.5,431.1 608.8,434.1 609.1,437.0 609.4,440.0 609.8,443.0 610.1,446.0 610.4,449.0 610.7,452.0 611.0,455.0 611.3,458.0 611.7,461.0 612.0,464.0 612.3,467.0 612.6,470.0 613.0,473.0 613.3,475.9 613.6,478.9 614.0,481.9 614.3,484.9 614.6,487.9 615.0,490.9 615.3,493.9 615.6,496.9 616.0,499.9 616.3,502.9 616.6,505.8 616.9,508.8 617.3,511.8 617.6,514.8 617.9,517.8 618.2,520.8 618.5,523.8 618.8,526.8 619.2,529.8 619.5,532.8 619.8,535.8 620.1,538.8 620.4,541.8 620.7,544.7 621.1,547.7 621.4,550.7 621.7,553.7 622.0,556.7 622.3,559.7 622.6,562.7 622.9,565.7 623.2,568.7 623.5,571.7 623.8,574.7 624.1,577.7 624.4,580.7 624.7,583.7 625.0,586.7 625.3,589.7 625.5,592.6 625.8,595.6 626.1,598.6 626.4,601.6 626.6,604.6 626.9,607.6 627.1,610.6 627.4,613.6 627.6,616.6 627.8,619.6 628.0,622.6 628.2,625.6 628.4,628.6 628.6,631.6 628.8,634.6 629.0,637.7 629.3,640.7 629.5,643.7 629.7,646.6 630.0,649.6 630.3,652.6 630.6,655.6 630.9,658.6 631.2,661.6 631.6,664.6 632.0,667.6 632.4,670.6 632.8,673.5 633.3,676.5 633.7,679.5 634.1,682.5 634.6,685.4 635.0,688.4 635.5,691.4 635.9,694.4 636.3,697.4 636.7,700.3 637.1,703.3 637.5,706.3 637.9,709.3 638.3,712.3 638.7,715.3 639.1,718.2 639.5,721.2 639.9,724.2 640.3,727.2 640.7,730.2 641.1,733.1 641.5,736.1 641.9,739.1 642.3,742.1 642.7,745.1 643.1,748.1 643.5,751.0 643.9,754.0 644.3,757.0 644.7,760.0 645.1,763.0 645.4,766.0 645.8,768.9 646.2,771.9 646.6,774.9 647.0,777.9 647.4,780.9 647.8,783.9 648.2,786.8 648.6,789.8 648.9,792.8 649.3,795.8 649.7,798.8 650.1,801.8 650.6,804.7 651.0,807.7 651.4,810.7 651.8,813.7 652.2,816.7 652.6,819.6 653.1,822.6 653.5,825.6 653.9,828.6 654.3,831.6 654.7,834.5 655.2,837.5 655.6,840.5 656.1,843.5 656.5,846.4 657.0,849.4 657.4,852.4 657.9,855.4 658.4,858.3 658.9,861.3 659.4,864.3 659.9,867.2 660.4,870.2 661.0,873.1 661.5,876.1 662.1,879.0 662.7,882.0 663.4,884.9 664.0,887.9 664.6,890.8 665.2,893.8 665.8,896.7 666.4,899.7 667.0,902.6 667.6,905.6 668.2,908.5 668.7,911.5 669.3,914.4 669.9,917.4 670.4,920.4 671.0,923.3 671.6,926.3 672.2,929.2 672.8,932.2 673.4,935.1 674.1,938.0 674.7,941.0 675.4,943.9 676.1,946.8 676.8,949.8 677.5,952.7 678.2,955.6 678.9,958.5 679.7,961.5 680.4,964.4 681.2,967.3 682.0,970.2 682.8,973.1 683.6,976.0 684.4,978.9 685.3,981.7 686.2,984.6 687.0,987.5 687.9,990.4 688.9,993.3 689.8,996.1 690.8,999.0 691.8,1001.8 692.9,1004.6 693.9,1007.4 695.0,1010.2 696.2,1013.0 697.4,1015.7 698.7,1018.5 700.0,1021.2 701.4,1023.9 702.8,1026.5 704.3,1029.2 705.8,1031.8 707.3,1034.3 708.9,1036.9 710.6,1039.4 712.3,1041.9 714.1,1044.4 715.9,1046.8 717.8,1049.1 719.8,1051.4 721.8,1053.6 723.8,1055.7 726.0,1057.8 728.3,1059.9 730.6,1061.9 732.9,1063.8 735.3,1065.5 737.8,1067.2 740.3,1068.8 743.0,1070.3 745.6,1071.8 748.3,1073.2 750.9,1074.6 753.6,1076.1 756.2,1077.5 759.0,1078.7 761.7,1079.9 764.5,1080.9 767.4,1082.0 770.2,1082.9 773.1,1083.9 776.0,1084.8 778.9,1085.6 781.8,1086.4 784.7,1087.2 787.6,1088.0 790.5,1088.7 793.4,1089.4 796.4,1090.0 799.3,1090.6 802.3,1091.2 805.2,1091.7 808.2,1092.3 811.2,1092.8 814.1,1093.3 817.1,1093.7 820.1,1094.2 823.0,1094.7 826.0,1095.1 829.0,1095.5 832.0,1096.0 835.0,1096.4 837.9,1096.8 840.9,1097.2 843.9,1097.6 846.9,1098.0 849.9,1098.4 852.8,1098.8 855.8,1099.2 858.8,1099.7 861.8,1100.1 864.8,1100.5 867.8,1100.9 870.7,1101.2 873.7,1101.6 876.7,1101.9 879.7,1102.2 882.7,1102.5 885.7,1102.7 888.7,1103.0 891.7,1103.4 894.7,1103.7 897.7,1104.1 900.6,1104.5 903.6,1104.9 906.6,1105.3 909.6,1105.6 912.6,1106.0 915.6,1106.4 918.6,1106.7 921.5,1107.1 924.5,1107.5 927.5,1107.8 930.5,1108.2 933.5,1108.6 936.5,1108.9 939.5,1109.3 942.5,1109.6 945.4,1110.0 948.4,1110.4 951.4,1110.7 954.4,1111.1 957.4,1111.5 960.4,1111.9 963.4,1112.2 966.3,1112.6 969.3,1113.1 972.3,1113.5 975.3,1114.0 978.2,1114.4 981.2,1114.9 984.2,1115.4 987.1,1115.9 990.1,1116.4 993.1,1116.9 996.0,1117.4 999.0,1118.0 1002.0,1118.5 1004.9,1119.1 1007.9,1119.7 1010.8,1120.2 1013.8,1120.8 1016.7,1121.4 1019.7,1122.0 1022.6,1122.6 1025.6,1123.2 1028.5,1123.7 1031.5,1124.3 1034.4,1124.9 1037.4,1125.5 1040.3,1126.1 1043.3,1126.7 1046.2,1127.3 1049.2,1127.9 1052.1,1128.5 1055.1,1129.1 1058.0,1129.7 1061.0,1130.3 1063.9,1130.9 1066.9,1131.4 1069.8,1132.0 1072.8,1132.6 1075.7,1133.2 1078.7,1133.7 1081.6,1134.3 1084.6,1134.9 1087.6,1135.4 1090.5,1136.0 1093.5,1136.6 1096.4,1137.1 1099.4,1137.7 1102.3,1138.3 1105.3,1138.8 1108.3,1139.4 1111.2,1139.9 1114.2,1140.5 1117.1,1141.0 1120.1,1141.5 1123.1,1142.1 1126.0,1142.6 1129.0,1143.1 1131.9,1143.6 1134.9,1144.1 1137.9,1144.6 1140.8,1145.1 1143.8,1145.5 1146.8,1146.0 1149.8,1146.5 1152.7,1146.9 1155.7,1147.4 1158.7,1147.8 1161.7,1148.3 1164.6,1148.7 1167.6,1149.2 1170.6,1149.6 1173.6,1150.0 1176.5,1150.5 1179.5,1150.9 1182.5,1151.3 1185.5,1151.7 1188.5,1152.2 1191.4,1152.6 1194.4,1153.0 1197.4,1153.4 1200.4,1153.8 1203.4,1154.3 1206.3,1154.7 1209.3,1155.1 1212.3,1155.5 1215.3,1155.9 1218.3,1156.4 1221.2,1156.8 1224.2,1157.2 1227.2,1157.6 1230.2,1158.1 1233.2,1158.5 1236.1,1158.9 1239.1,1159.3 1242.1,1159.7 1245.1,1160.1 1248.1,1160.5 1251.0,1161.0 1254.0,1161.4 1257.0,1161.8 1260.0,1162.2 1263.0,1162.5 1266.0,1162.9 1268.9,1163.3 1271.9,1163.7 1274.9,1164.1 1277.9,1164.4 1280.9,1164.8 1283.9,1165.2 1286.9,1165.5 1289.8,1165.9 1292.8,1166.2 1295.8,1166.6 1298.8,1166.9 1301.8,1167.3 1304.8,1167.6 1307.8,1168.0 1310.8,1168.3 1313.8,1168.6 1316.7,1169.0 1319.7,1169.3 1322.7,1169.6 1325.7,1169.9 1328.7,1170.2 1331.7,1170.5 1334.7,1170.8 1337.7,1171.1 1340.7,1171.4 1343.7,1171.7 1346.7,1171.9 1349.7,1172.2 1352.7,1172.5 1355.7,1172.8 1358.7,1173.0 1361.7,1173.3 1364.7,1173.6 1367.7,1173.8 1370.7,1174.1 1373.7,1174.4 1376.6,1174.7 1379.6,1175.0 1382.6,1175.2 1385.6,1175.5 1388.6,1175.9 1391.6,1176.2 1394.6,1176.5 1397.6,1176.8 1400.6,1177.1 1403.6,1177.4 1406.6,1177.8 1409.6,1178.1 1412.6,1178.4 1415.6,1178.6 1418.6,1178.9 1421.6,1179.1 1424.6,1179.4 1427.6,1179.6 1430.6,1179.8 1433.6,1180.0 1436.6,1180.2 1439.6,1180.4 1442.6,1180.6 1445.6,1180.8 1448.6,1181.0 1451.6,1181.2 1454.6,1181.4 1457.6,1181.6 1460.6,1181.8 1463.6,1181.9 1466.6,1182.1 1469.6,1182.3 1472.6,1182.4 1475.6,1182.6 1478.6,1182.8 1481.6,1183.0 1484.6,1183.1 1487.6,1183.3 1490.6,1183.5 1493.6,1183.6 1496.6,1183.8 1499.6,1184.0 1502.6,1184.2 1505.6,1184.3 1508.6,1184.5 1511.7,1184.7 1514.7,1184.8 1517.7,1185.0 1520.7,1185.2 1523.7,1185.3 1526.7,1185.5 1529.7,1185.7 1532.7,1185.9 1535.7,1186.0 1538.7,1186.2 1541.7,1186.3 1544.7,1186.5 1547.7,1186.7 1550.7,1186.8 1553.7,1187.0 1556.7,1187.2 1559.7,1187.3 1562.7,1187.5 1565.7,1187.6 1568.7,1187.8 1571.7,1187.9 1574.7,1188.1 1577.8,1188.3 1580.8,1188.4 1583.8,1188.6 1586.8,1188.7 1589.8,1188.9 1592.8,1189.0 1595.8,1189.2 1598.8,1189.3 1601.8,1189.5 1604.8,1189.6 1607.8,1189.7 1610.8,1189.9 1613.8,1190.0 1616.8,1190.2 1619.8,1190.3 1622.8,1190.4 1625.8,1190.6 1628.8,1190.7 1631.8,1190.9 1634.9,1191.0 1637.9,1191.1 1640.9,1191.3 1643.9,1191.4 1646.9,1191.5 1649.9,1191.7 1652.9,1191.8 1655.9,1191.9 1658.9,1192.1 1661.9,1192.2 1664.9,1192.3 1667.9,1192.4 1670.9,1192.6 1673.9,1192.7 1676.9,1192.8 1679.9,1192.9 1682.9,1193.1 1686.0,1193.2 1689.0,1193.3 1692.0,1193.4 1695.0,1193.5 1698.0,1193.7 1701.0,1193.8 1704.0,1193.9 1707.0,1194.0"/>
<polyline class="c" stroke="#ff00ff" points="425.0,296.2 431.4,286.8 437.8,276.0 444.2,268.8 450.6,262.8 457.1,257.5 463.5,250.7 469.9,232.0 476.3,234.2 482.7,239.0 489.1,227.2 495.5,224.4 501.9,218.7 508.3,221.6 514.7,222.5 521.1,213.6 527.6,217.2 534.0,211.2 540.4,215.3 546.8,213.6 553.2,218.7 559.6,223.5 566.0,224.8 572.4,217.2 578.8,215.5 585.2,217.4 591.7,217.4 598.1,225.4 604.5,223.8 610.9,220.1 617.3,221.2 623.7,225.4 630.1,223.1 636.5,226.3 642.9,226.7 649.4,225.9 655.8,220.1 662.2,226.3 668.6,221.2 675.0,225.9 681.4,226.3 682.2,229.2 682.9,232.1 683.6,235.1 684.2,238.0 684.6,241.0 685.0,243.9 685.3,246.9 685.6,249.9 685.9,252.9 686.2,255.9 686.4,258.9 686.6,261.9 686.8,264.9 687.1,267.9 687.3,270.9 687.5,273.9 687.7,276.9 688.0,279.9 688.3,282.9 688.5,285.9 688.8,288.9 689.1,291.9 689.3,294.9 689.6,297.9 689.9,300.9 690.2,303.9 690.4,306.9 690.7,309.9 691.0,312.9 691.2,315.9 691.5,318.9 691.8,321.8 692.0,324.8 692.3,327.8 692.6,330.8 692.8,333.8 693.1,336.8 693.4,339.8 693.6,342.8 693.9,345.8 694.1,348.8 694.4,351.8 694.7,354.8 694.9,357.8 695.2,360.8 695.4,363.8 695.7,366.8 695.9,369.8 696.2,372.8 696.4,375.8 696.6,378.8 696.8,381.8 697.0,384.8 697.2,387.8 697.4,390.8 697.6,393.8 697.8,396.8 698.0,399.8 698.2,402.8 698.4,405.8 698.6,408.8 698.8,411.8 698.9,414.8 699.1,417.8 699.3,420.8 699.5,423.8 699.6,426.8 699.8,429.8 700.0,432.8 700.2,435.8 700.4,438.8 700.6,441.8 700.8,444.8 701.0,447.8 701.2,450.8 701.4,453.8 701.6,456.8 701.9,459.8 702.1,462.8 702.3,465.8 702.6,468.8 702.8,471.8 703.0,474.8 703.3,477.8 703.5,480.8 703.8,483.8 704.0,486.8 704.3,489.8 704.5,492.8 704.8,495.8 705.1,498.7 705.3,501.7 705.6,504.7 705.9,507.7 706.1,510.7 706.4,513.7 706.7,516.7 707.0,519.7 707.3,522.7 707.5,525.7 707.8,528.7 708.1,531.7 708.4,534.7 708.7,537.7 709.0,540.7 709.3,543.6 709.6,546.6 710.0,549.6 710.3,552.6 710.6,555.6 710.9,558.6 711.2,561.6 711.6,564.6 711.9,567.6 712.3,570.5 712.6,573.5 713.0,576.5 713.3,579.5 713.7,582.5 714.0,585.5 714.4,588.5 714.8,591.4 715.2,594.4 715.6,597.4 715.9,600.4 716.3,603.4 716.7,606.4 717.1,609.3 717.5,612.3 717.9,615.3 718.4,618.3 718.8,621.3 719.2,624.2 719.6,627.2 720.0,630.2 720.5,633.2 720.9,636.1 721.3,639.1 721.7,642.1 722.1,645.1 722.6,648.1 723.0,651.1 723.5,654.1 723.9,657.1 724.4,660.0 724.9,663.0 725.4,666.0 725.9,668.9 726.4,671.9 727.0,674.8 727.6,677.8 728.2,680.7 728.8,683.6 729.5,686.5 730.2,689.5 730.9,692.5 731.6,695.5 732.5,698.5 733.3,701.5 734.3,704.5 735.3,707.3 736.4,710.1 737.6,712.7 739.0,715.1 740.6,717.6 742.7,720.3 745.1,722.8 747.5,724.4 749.9,724.6 752.3,723.4 754.7,721.3 757.1,718.8 759.4,716.7 761.9,714.9 764.3,713.0 766.7,711.1 768.9,709.1 770.7,706.9 772.4,704.5 773.9,702.0 775.3,699.3 776.7,696.5 777.9,693.7 779.1,690.8 780.2,688.0 781.2,685.2 782.2,682.4 783.1,679.5 784.0,676.7 784.8,673.8 785.7,670.9 786.5,667.9 787.2,665.0 788.0,662.1 788.8,659.2 789.5,656.3 790.2,653.4 790.9,650.4 791.6,647.5 792.2,644.6 792.9,641.6 793.5,638.7 794.2,635.8 794.8,632.8 795.5,629.9 796.1,627.0 796.8,624.0 797.5,621.1 798.2,618.2 798.9,615.3 799.7,612.4 800.4,609.4 801.2,606.5 802.0,603.6 802.8,600.7 803.6,597.8 804.5,595.0 805.3,592.1 806.1,589.2 806.9,586.3 807.8,583.4 808.7,580.5 809.6,577.6 810.5,574.8 811.4,571.9 812.3,569.0 813.1,566.2 814.0,563.3 814.9,560.4 815.7,557.5 816.5,554.6 817.2,551.7 818.0,548.8 818.7,545.9 819.4,543.0 820.1,540.0 820.8,537.1 821.5,534.2 822.2,531.2 822.8,528.3 823.5,525.4 824.1,522.4 824.7,519.5 825.4,516.6 826.0,513.6 826.6,510.7 827.3,507.7 827.9,504.8 828.5,501.8 829.1,498.9 829.7,495.9 830.2,493.0 830.8,490.0 831.4,487.1 831.9,484.1 832.5,481.2 833.1,478.2 833.7,475.3 834.2,472.3 834.8,469.4 835.4,466.4 836.1,463.5 836.7,460.6 837.3,457.6 837.9,454.7 838.6,451.7 839.2,448.8 839.8,445.8 840.5,442.9 841.1,440.0 841.8,437.0 842.5,434.1 843.2,431.2 843.8,428.2 844.5,425.3 845.3,422.4 846.0,419.5 846.8,416.6 847.5,413.7 848.3,410.8 849.2,407.9 850.0,405.0 850.9,402.1 851.8,399.3 852.7,396.4 853.7,393.6 854.6,390.7 855.6,387.9 856.6,385.0 857.6,382.2 858.6,379.3 859.7,376.5 860.7,373.7 861.8,370.9 862.8,368.0 863.8,365.2 864.9,362.4 866.0,359.5 867.1,356.7 868.2,353.9 869.4,351.1 870.7,348.4 872.0,345.8 873.4,343.2 874.9,340.6 876.5,338.0 878.2,335.4 880.0,332.9 881.9,330.5 883.9,328.2 885.9,326.1 888.0,324.1 890.4,322.3 892.9,320.7 895.5,319.2 898.2,317.7 900.9,316.2 903.5,314.6 906.2,312.9 908.9,311.5 911.7,310.7 914.6,310.8 917.5,311.3 920.5,312.2 923.5,313.2 926.3,314.2 928.9,315.4 931.4,317.1 933.7,319.0 936.0,321.0 938.4,323.0 940.8,324.8 943.6,326.3 946.5,327.8 949.4,329.1 952.2,330.6 954.7,332.2 956.6,334.0 957.9,336.1 959.1,338.7 960.2,341.5 961.1,344.6 961.9,347.7 962.7,350.7 963.5,353.7 964.3,356.6 965.0,359.5 965.7,362.4 966.4,365.3 967.1,368.3 967.7,371.2 968.3,374.2 968.9,377.1 969.5,380.1 970.0,383.0 970.5,386.0 971.0,389.0 971.5,391.9 971.9,394.9 972.4,397.9 972.8,400.8 973.2,403.8 973.6,406.8 974.0,409.8 974.3,412.8 974.7,415.8 975.1,418.7 975.4,421.7 975.8,424.7 976.1,427.7 976.5,430.7 976.8,433.7 977.2,436.7 977.6,439.7 977.9,442.6 978.3,445.6 978.6,448.6 979.0,451.6 979.3,454.6 979.7,457.6 980.0,460.6 980.3,463.6 980.7,466.5 981.0,469.5 981.3,472.5 981.7,475.5 982.0,478.5 982.3,481.5 982.7,484.5 983.0,487.5 983.3,490.5 983.7,493.4 984.0,496.4 984.4,499.4 984.7,502.4 985.0,505.4 985.4,508.4 985.8,511.4 986.1,514.3 986.5,517.3 986.8,520.3 987.2,523.3 987.6,526.3 987.9,529.3 988.3,532.2 988.7,535.2 989.1,538.2 989.4,541.2 989.8,544.2 990.2,547.2 990.6,550.1 991.0,553.1 991.3,556.1 991.7,559.1 992.1,562.1 992.5,565.1 992.9,568.0 993.3,571.0 993.6,574.0 994.0,577.0 994.4,580.0 994.8,583.0 995.2,585.9 995.6,588.9 996.0,591.9 996.4,594.9 996.8,597.9 997.2,600.8 997.6,603.8 998.0,606.8 998.4,609.8 998.8,612.8 999.2,615.7 999.5,618.7 999.9,621.7 1000.3,624.7 1000.7,627.7 1001.1,630.7 1001.4,633.6 1001.8,636.6 1002.1,639.6 1002.5,642.6 1002.8,645.6 1003.1,648.6 1003.4,651.6 1003.7,654.6 1004.1,657.5 1004.4,660.5 1004.7,663.5 1004.9,666.5 1005.2,669.5 1005.5,672.5 1005.8,675.5 1006.1,678.5 1006.4,681.5 1006.7,684.5 1006.9,687.5 1007.2,690.5 1007.5,693.5 1007.8,696.5 1008.0,699.5 1008.3,702.4 1008.6,705.4 1008.9,708.4 1009.2,711.4 1009.5,714.4 1009.7,717.4 1010.0,720.4 1010.3,723.4 1010.6,726.4 1010.9,729.4 1011.2,732.4 1011.6,735.4 1011.9,738.4 1012.2,741.3 1012.5,744.3 1012.8,747.3 1013.1,750.3 1013.4,753.3 1013.7,756.3 1013.9,759.3 1014.2,762.3 1014.5,765.3 1014.7,768.3 1015.0,771.3 1015.2,774.3 1015.5,777.3 1015.7,780.3 1016.0,783.3 1016.2,786.3 1016.5,789.3 1016.7,792.3 1017.0,795.3 1017.3,798.2 1017.6,801.2 1017.9,804.2 1018.2,807.2 1018.5,810.2 1018.8,813.2 1019.1,816.2 1019.4,819.2 1019.8,822.2 1020.1,825.2 1020.4,828.1 1020.8,831.1 1021.1,834.1 1021.5,837.1 1021.8,840.1 1022.2,843.1 1022.6,846.1 1022.9,849.0 1023.3,852.0 1023.7,855.0 1024.1,858.0 1024.4,861.0 1024.8,864.0 1025.2,867.0 1025.6,869.9 1026.0,872.9 1026.4,875.9 1026.8,878.9 1027.2,881.9 1027.6,884.8 1028.0,887.8 1028.4,890.8 1028.8,893.8 1029.2,896.8 1029.6,899.7 1030.0,902.7 1030.4,905.7 1030.8,908.7 1031.3,911.7 1031.7,914.6 1032.1,917.6 1032.6,920.6 1033.0,923.6 1033.4,926.5 1033.9,929.5 1034.4,932.5 1034.8,935.5 1035.3,938.4 1035.8,941.4 1036.3,944.4 1036.8,947.3 1037.3,950.3 1037.8,953.2 1038.4,956.2 1038.9,959.2 1039.4,962.1 1040.0,965.0 1040.6,968.0 1041.2,970.9 1041.8,973.9 1042.5,976.8 1043.1,979.8 1043.8,982.7 1044.5,985.6 1045.2,988.5 1045.9,991.5 1046.6,994.4 1047.3,997.3 1048.0,1000.2 1048.8,1003.2 1049.5,1006.1 1050.3,1009.0 1051.1,1011.9 1051.8,1014.8 1052.6,1017.7 1053.4,1020.6 1054.2,1023.5 1055.0,1026.4 1055.9,1029.3 1056.7,1032.2 1057.6,1035.1 1058.4,1037.9 1059.3,1040.8 1060.2,1043.7 1061.1,1046.6 1062.1,1049.4 1063.0,1052.3 1064.0,1055.1 1065.0,1057.9 1065.9,1060.8 1067.0,1063.6 1068.0,1066.4 1069.0,1069.3 1070.1,1072.1 1071.2,1074.9 1072.3,1077.7 1073.4,1080.5 1074.6,1083.3 1075.7,1086.1 1076.9,1088.8 1078.1,1091.6 1079.4,1094.3 1080.6,1097.0 1081.9,1099.7 1083.2,1102.5 1084.5,1105.2 1085.8,1108.0 1087.1,1110.8 1088.5,1113.5 1089.9,1116.3 1091.4,1118.9 1092.9,1121.6 1094.5,1124.1 1096.1,1126.5 1097.8,1128.8 1099.7,1131.0 1101.7,1133.1 1103.9,1135.2 1106.2,1137.2 1108.6,1139.1 1111.1,1140.9 1113.6,1142.7 1116.1,1144.3 1118.7,1145.9 1121.2,1147.5 1123.8,1149.0 1126.5,1150.4 1129.2,1151.8 1132.0,1153.1 1134.8,1154.2 1137.6,1155.2 1140.4,1156.0 1143.3,1156.8 1146.2,1157.5 1149.2,1158.2 1152.2,1158.8 1155.1,1159.4 1158.1,1160.0 1161.0,1160.5 1164.0,1161.1 1166.9,1161.6 1169.9,1162.0 1172.9,1162.5 1175.9,1162.9 1178.8,1163.3 1181.8,1163.7 1184.8,1164.1 1187.8,1164.5 1190.8,1164.8 1193.8,1165.2 1196.7,1165.5 1199.7,1165.9 1202.7,1166.2 1205.7,1166.6 1208.7,1166.9 1211.7,1167.2 1214.7,1167.6 1217.7,1167.9 1220.7,1168.2 1223.6,1168.6 1226.6,1168.9 1229.6,1169.3 1232.6,1169.6 1235.6,1169.9 1238.6,1170.3 1241.6,1170.6 1244.6,1170.9 1247.6,1171.2 1250.6,1171.5 1253.5,1171.8 1256.5,1172.0 1259.5,1172.3 1262.5,1172.5 1265.5,1172.8 1268.5,1173.0 1271.5,1173.2 1274.5,1173.4 1277.5,1173.7 1280.5,1173.9 1283.5,1174.1 1286.5,1174.2 1289.5,1174.4 1292.5,1174.6 1295.5,1174.8 1298.5,1175.0 1301.5,1175.2 1304.5,1175.3 1307.5,1175.5 1310.5,1175.7 1313.5,1175.9 1316.5,1176.0 1319.5,1176.2 1322.5,1176.4 1325.5,1176.5 1328.5,1176.7 1331.5,1176.9 1334.6,1177.0 1337.6,1177.2 1340.6,1177.3 1343.6,1177.5 1346.6,1177.6 1349.6,1177.8 1352.6,1177.9 1355.6,1178.1 1358.6,1178.2 1361.6,1178.4 1364.6,1178.5 1367.6,1178.7 1370.6,1178.8 1373.6,1178.9 1376.6,1179.1 1379.6,1179.2 1382.6,1179.4 1385.6,1179.5 1388.6,1179.7 1391.6,1179.8 1394.6,1180.0 1397.6,1180.1 1400.6,1180.3 1403.6,1180.4 1406.6,1180.5 1409.6,1180.7 1412.6,1180.8 1415.6,1181.0 1418.6,1181.1 1421.6,1181.3 1424.6,1181.4 1427.6,1181.6 1430.7,1181.8 1433.7,1181.9 1436.7,1182.1 1439.7,1182.2 1442.7,1182.4 1445.7,1182.6 1448.7,1182.7 1451.7,1182.9 1454.7,1183.1 1457.7,1183.2 1460.7,1183.4 1463.7,1183.6 1466.7,1183.7 1469.7,1183.9 1472.7,1184.1 1475.7,1184.2 1478.7,1184.4 1481.7,1184.6 1484.7,1184.7 1487.7,1184.9 1490.7,1185.0 1493.7,1185.2 1496.7,1185.3 1499.7,1185.5 1502.7,1185.6 1505.7,1185.8 1508.7,1185.9 1511.7,1186.1 1514.7,1186.2 1517.7,1186.4 1520.7,1186.5 1523.7,1186.6 1526.7,1186.8 1529.7,1186.9 1532.7,1187.1 1535.7,1187.2 1538.8,1187.4 1541.8,1187.5 1544.8,1187.6 1547.8,1187.8 1550.8,1187.9 1553.8,1188.0 1556.8,1188.2 1559.8,1188.3 1562.8,1188.4 1565.8,1188.6 1568.8,1188.7 1571.8,1188.8 1574.8,1189.0 1577.8,1189.1 1580.8,1189.2 1583.8,1189.4 1586.8,1189.5 1589.8,1189.6 1592.8,1189.7 1595.8,1189.9 1598.8,1190.0 1601.8,1190.1 1604.8,1190.2 1607.8,1190.4 1610.8,1190.5 1613.9,1190.6 1616.9,1190.7 1619.9,1190.8 1622.9,1191.0 1625.9,1191.1 1628.9,1191.2 1631.9,1191.3 1634.9,1191.4 1637.9,1191.5 1640.9,1191.7 1643.9,1191.8 1646.9,1191.9 1649.9,1192.0 1652.9,1192.1 1655.9,1192.2 1658.9,1192.3 1661.9,1192.4 1664.9,1192.5 1667.9,1192.7 1670.9,1192.8 1673.9,1192.9 1676.9,1193.0 1680.0,1193.1 1683.0,1193.2 1686.0,1193.3 1689.0,1193.4 1692.0,1193.5 1695.0,1193.6 1698.0,1193.7 1701.0,1193.8 1704.0,1193.9 1707.0,1194.0"/>
<polyline class="c" stroke="#ffff00" points="425.0,1177.8 427.9,1178.8 430.7,1179.8 433.6,1180.7 436.5,1181.4 439.5,1181.9 442.4,1182.4 445.4,1182.8 448.4,1183.2 451.4,1183.5 454.4,1183.7 457.4,1183.8 460.4,1183.9 463.5,1184.0 466.5,1184.1 469.5,1184.1 472.5,1184.2 475.5,1184.2 478.5,1184.2 481.5,1184.2 484.5,1184.1 487.6,1184.1 490.6,1184.0 493.6,1183.9 496.6,1183.8 499.6,1183.8 502.6,1183.7 505.6,1183.7 508.6,1183.6 511.6,1183.6 514.7,1183.6 517.7,1183.6 520.7,1183.7 523.7,1183.7 526.7,1183.8 529.7,1183.8 532.7,1183.9 535.7,1184.0 538.7,1184.1 541.7,1184.3 544.8,1184.4 547.8,1184.5 550.8,1184.6 553.8,1184.8 556.8,1184.9 559.8,1185.1 562.8,1185.2 565.8,1185.3 568.8,1185.5 571.8,1185.6 574.8,1185.7 577.8,1185.9 580.9,1186.1 583.9,1186.3 586.9,1186.5 589.9,1186.7 592.9,1186.9 595.9,1187.1 598.9,1187.3 601.9,1187.5 604.9,1187.7 607.9,1187.9 610.9,1188.1 613.9,1188.2 616.9,1188.4 619.9,1188.5 622.9,1188.6 626.0,1188.7 629.0,1188.7 632.0,1188.8 635.0,1188.8 638.0,1188.9 641.0,1188.9 644.0,1189.0 647.0,1189.0 650.0,1189.1 653.0,1189.1 656.1,1189.1 659.1,1189.2 662.1,1189.2 665.1,1189.2 668.1,1189.3 671.1,1189.3 674.1,1189.3 677.1,1189.4 680.1,1189.4 683.2,1189.4 686.2,1189.4 689.2,1189.4 692.2,1189.5 695.2,1189.5 698.2,1189.5 701.2,1189.5 704.2,1189.5 707.3,1189.5 710.3,1189.5 713.3,1189.6 716.3,1189.6 719.3,1189.6 722.3,1189.6 725.3,1189.6 728.3,1189.6 731.3,1189.6 734.4,1189.6 737.4,1189.6 740.4,1189.6 743.4,1189.6 746.4,1189.7 749.4,1189.7 752.4,1189.7 755.4,1189.7 758.4,1189.7 761.5,1189.7 764.5,1189.7 767.5,1189.7 770.5,1189.7 773.5,1189.8 776.5,1189.8 779.5,1189.8 782.5,1189.8 785.5,1189.8 788.6,1189.8 791.6,1189.8 794.6,1189.8 797.6,1189.8 800.6,1189.8 803.6,1189.9 806.6,1189.9 809.6,1189.9 812.7,1189.9 815.7,1189.9 818.7,1189.9 821.7,1189.9 824.7,1189.9 827.7,1189.9 830.7,1189.9 833.7,1190.0 836.7,1190.0 839.8,1190.0 842.8,1190.0 845.8,1190.0 848.8,1190.0 851.8,1190.0 854.8,1190.0 857.8,1190.1 860.8,1190.1 863.8,1190.1 866.9,1190.1 869.9,1190.1 872.9,1190.1 875.9,1190.1 878.9,1190.2 881.9,1190.2 884.9,1190.2 887.9,1190.2 890.9,1190.2 894.0,1190.2 897.0,1190.3 900.0,1190.3 903.0,1190.3 906.0,1190.3 909.0,1190.3 912.0,1190.4 915.0,1190.4 918.0,1190.4 921.1,1190.4 924.1,1190.5 927.1,1190.5 930.1,1190.5 933.1,1190.5 936.1,1190.6 939.1,1190.6 942.1,1190.7 945.1,1190.7 948.2,1190.8 951.2,1190.9 954.2,1191.0 957.2,1191.0 960.2,1191.1 963.2,1191.2 966.2,1191.3 969.2,1191.4 972.2,1191.5 975.2,1191.5 978.3,1191.6 981.3,1191.7 984.3,1191.8 987.3,1191.8 990.3,1191.9 993.3,1191.9 996.3,1192.0 999.3,1192.0 1002.3,1192.0 1005.4,1192.0 1008.4,1192.1 1011.4,1192.1 1014.4,1192.1 1017.4,1192.1 1020.4,1192.2 1023.4,1192.2 1026.4,1192.2 1029.4,1192.2 1032.5,1192.2 1035.5,1192.2 1038.5,1192.3 1041.5,1192.3 1044.5,1192.3 1047.5,1192.3 1050.5,1192.3 1053.5,1192.3 1056.5,1192.3 1059.6,1192.4 1062.6,1192.4 1065.6,1192.4 1068.6,1192.4 1071.6,1192.4 1074.6,1192.4 1077.6,1192.4 1080.6,1192.4 1083.7,1192.4 1086.7,1192.5 1089.7,1192.5 1092.7,1192.5 1095.7,1192.5 1098.7,1192.5 1101.7,1192.5 1104.7,1192.5 1107.7,1192.5 1110.8,1192.5 1113.8,1192.5 1116.8,1192.6 1119.8,1192.6 1122.8,1192.6 1125.8,1192.6 1128.8,1192.6 1131.8,1192.6 1134.8,1192.6 1137.9,1192.6 1140.9,1192.6 1143.9,1192.7 1146.9,1192.7 1149.9,1192.7 1152.9,1192.7 1155.9,1192.7 1158.9,1192.7 1161.9,1192.7 1165.0,1192.7 1168.0,1192.7 1171.0,1192.8 1174.0,1192.8 1177.0,1192.8 1180.0,1192.8 1183.0,1192.8 1186.0,1192.8 1189.0,1192.8 1192.1,1192.8 1195.1,1192.8 1198.1,1192.8 1201.1,1192.9 1204.1,1192.9 1207.1,1192.9 1210.1,1192.9 1213.1,1192.9 1216.2,1192.9 1219.2,1192.9 1222.2,1192.9 1225.2,1192.9 1228.2,1193.0 1231.2,1193.0 1234.2,1193.0 1237.2,1193.0 1240.2,1193.0 1243.3,1193.0 1246.3,1193.0 1249.3,1193.0 1252.3,1193.0 1255.3,1193.0 1258.3,1193.1 1261.3,1193.1 1264.3,1193.1 1267.3,1193.1 1270.4,1193.1 1273.4,1193.1 1276.4,1193.1 1279.4,1193.1 1282.4,1193.1 1285.4,1193.1 1288.4,1193.2 1291.4,1193.2 1294.4,1193.2 1297.5,1193.2 1300.5,1193.2 1303.5,1193.2 1306.5,1193.2 1309.5,1193.2 1312.5,1193.2 1315.5,1193.2 1318.5,1193.3 1321.5,1193.3 1324.6,1193.3 1327.6,1193.3 1330.6,1193.3 1333.6,1193.3 1336.6,1193.3 1339.6,1193.3 1342.6,1193.3 1345.6,1193.3 1348.6,1193.3 1351.7,1193.4 1354.7,1193.4 1357.7,1193.4 1360.7,1193.4 1363.7,1193.4 1366.7,1193.4 1369.7,1193.4 1372.7,1193.4 1375.8,1193.4 1378.8,1193.4 1381.8,1193.4 1384.8,1193.4 1387.8,1193.5 1390.8,1193.5 1393.8,1193.5 1396.8,1193.5 1399.8,1193.5 1402.9,1193.5 1405.9,1193.5 1408.9,1193.5 1411.9,1193.5 1414.9,1193.5 1417.9,1193.5 1420.9,1193.5 1423.9,1193.6 1426.9,1193.6 1430.0,1193.6 1433.0,1193.6 1436.0,1193.6 1439.0,1193.6 1442.0,1193.6 1445.0,1193.6 1448.0,1193.6 1451.0,1193.6 1454.0,1193.6 1457.1,1193.6 1460.1,1193.6 1463.1,1193.7 1466.1,1193.7 1469.1,1193.7 1472.1,1193.7 1475.1,1193.7 1478.1,1193.7 1481.1,1193.7 1484.2,1193.7 1487.2,1193.7 1490.2,1193.7 1493.2,1193.7 1496.2,1193.7 1499.2,1193.7 1502.2,1193.7 1505.2,1193.7 1508.3,1193.8 1511.3,1193.8 1514.3,1193.8 1517.3,1193.8 1520.3,1193.8 1523.3,1193.8 1526.3,1193.8 1529.3,1193.8 1532.3,1193.8 1535.4,1193.8 1538.4,1193.8 1541.4,1193.8 1544.4,1193.8 1547.4,1193.8 1550.4,1193.8 1553.4,1193.8 1556.4,1193.8 1559.4,1193.8 1562.5,1193.9 1565.5,1193.9 1568.5,1193.9 1571.5,1193.9 1574.5,1193.9 1577.5,1193.9 1580.5,1193.9 1583.5,1193.9 1586.5,1193.9 1589.6,1193.9 1592.6,1193.9 1595.6,1193.9 1598.6,1193.9 1601.6,1193.9 1604.6,1193.9 1607.6,1193.9 1610.6,1193.9 1613.6,1193.9 1616.7,1193.9 1619.7,1193.9 1622.7,1193.9 1625.7,1193.9 1628.7,1193.9 1631.7,1193.9 1634.7,1194.0 1637.7,1194.0 1640.7,1194.0 1643.8,1194.0 1646.8,1194.0 1649.8,1194.0 1652.8,1194.0 1655.8,1194.0 1658.8,1194.0 1661.8,1194.0 1664.8,1194.0 1667.9,1194.0 1670.9,1194.0 1673.9,1194.0 1676.9,1194.0 1679.9,1194.0 1682.9,1194.0 1685.9,1194.0 1688.9,1194.0 1691.9,1194.0 1695.0,1194.0 1698.0,1194.0 1701.0,1194.0 1704.0,1194.0 1707.0,1194.0"/>
<polyline class="c" stroke="#808000" points="425.0,1171.2 427.7,1172.6 430.4,1174.0 433.2,1175.2 436.0,1176.2 438.8,1177.1 441.7,1177.8 444.7,1178.5 447.6,1179.1 450.6,1179.6 453.6,1180.1 456.6,1180.6 459.6,1181.1 462.6,1181.5 465.5,1181.9 468.5,1182.3 471.5,1182.7 474.5,1183.0 477.5,1183.3 480.5,1183.5 483.5,1183.8 486.5,1184.0 489.5,1184.2 492.5,1184.5 495.6,1184.7 498.6,1184.9 501.6,1185.0 504.6,1185.2 507.6,1185.4 510.6,1185.6 513.6,1185.8 516.6,1186.0 519.6,1186.2 522.6,1186.4 525.6,1186.6 528.6,1186.8 531.7,1187.0 534.7,1187.2 537.7,1187.4 540.7,1187.6 543.7,1187.8 546.7,1187.9 549.7,1188.1 552.7,1188.3 555.7,1188.5 558.7,1188.6 561.7,1188.8 564.8,1188.9 567.8,1189.1 570.8,1189.3 573.8,1189.4 576.8,1189.6 579.8,1189.7 582.8,1189.8 585.8,1190.0 588.8,1190.1 591.8,1190.2 594.9,1190.3 597.9,1190.5 600.9,1190.6 603.9,1190.7 606.9,1190.8 609.9,1190.9 612.9,1191.0 615.9,1191.1 619.0,1191.2 622.0,1191.3 625.0,1191.4 628.0,1191.4 631.0,1191.5 634.0,1191.6 637.0,1191.6 640.0,1191.7 643.1,1191.7 646.1,1191.8 649.1,1191.8 652.1,1191.9 655.1,1191.9 658.1,1192.0 661.1,1192.0 664.2,1192.0 667.2,1192.0 670.2,1192.0 673.2,1192.0 676.2,1192.0 679.2,1192.1 682.2,1192.1 685.3,1192.1 688.3,1192.1 691.3,1192.1 694.3,1192.1 697.3,1192.1 700.3,1192.1 703.3,1192.1 706.4,1192.1 709.4,1192.1 712.4,1192.1 715.4,1192.1 718.4,1192.1 721.4,1192.1 724.4,1192.1 727.5,1192.2 730.5,1192.2 733.5,1192.2 736.5,1192.2 739.5,1192.2 742.5,1192.2 745.5,1192.2 748.6,1192.2 751.6,1192.2 754.6,1192.2 757.6,1192.2 760.6,1192.2 763.6,1192.2 766.6,1192.2 769.6,1192.2 772.7,1192.2 775.7,1192.2 778.7,1192.2 781.7,1192.2 784.7,1192.2 787.7,1192.2 790.7,1192.2 793.8,1192.3 796.8,1192.3 799.8,1192.3 802.8,1192.3 805.8,1192.3 808.8,1192.3 811.8,1192.3 814.9,1192.3 817.9,1192.3 820.9,1192.3 823.9,1192.3 826.9,1192.3 829.9,1192.3 832.9,1192.3 836.0,1192.3 839.0,1192.3 842.0,1192.3 845.0,1192.3 848.0,1192.3 851.0,1192.3 854.0,1192.3 857.1,1192.3 860.1,1192.3 863.1,1192.3 866.1,1192.3 869.1,1192.3 872.1,1192.4 875.1,1192.4 878.2,1192.4 881.2,1192.4 884.2,1192.4 887.2,1192.4 890.2,1192.4 893.2,1192.4 896.2,1192.4 899.2,1192.4 902.3,1192.4 905.3,1192.4 908.3,1192.4 911.3,1192.4 914.3,1192.4 917.3,1192.4 920.3,1192.4 923.4,1192.5 926.4,1192.5 929.4,1192.5 932.4,1192.5 935.4,1192.5 938.4,1192.5 941.4,1192.5 944.5,1192.5 947.5,1192.5 950.5,1192.5 953.5,1192.5 956.5,1192.5 959.5,1192.5 962.5,1192.6 965.6,1192.6 968.6,1192.6 971.6,1192.6 974.6,1192.6 977.6,1192.6 980.6,1192.6 983.6,1192.6 986.7,1192.6 989.7,1192.6 992.7,1192.7 995.7,1192.7 998.7,1192.7 1001.7,1192.7 1004.7,1192.7 1007.8,1192.7 1010.8,1192.7 1013.8,1192.7 1016.8,1192.7 1019.8,1192.7 1022.8,1192.8 1025.8,1192.8 1028.9,1192.8 1031.9,1192.8 1034.9,1192.8 1037.9,1192.8 1040.9,1192.8 1043.9,1192.8 1046.9,1192.8 1049.9,1192.8 1053.0,1192.9 1056.0,1192.9 1059.0,1192.9 1062.0,1192.9 1065.0,1192.9 1068.0,1192.9 1071.0,1192.9 1074.1,1192.9 1077.1,1192.9 1080.1,1192.9 1083.1,1193.0 1086.1,1193.0 1089.1,1193.0 1092.1,1193.0 1095.2,1193.0 1098.2,1193.0 1101.2,1193.0 1104.2,1193.0 1107.2,1193.0 1110.2,1193.0 1113.2,1193.0 1116.3,1193.0 1119.3,1193.1 1122.3,1193.1 1125.3,1193.1 1128.3,1193.1 1131.3,1193.1 1134.3,1193.1 1137.4,1193.1 1140.4,1193.1 1143.4,1193.1 1146.4,1193.1 1149.4,1193.1 1152.4,1193.1 1155.4,1193.1 1158.5,1193.2 1161.5,1193.2 1164.5,1193.2 1167.5,1193.2 1170.5,1193.2 1173.5,1193.2 1176.5,1193.2 1179.6,1193.2 1182.6,1193.2 1185.6,1193.2 1188.6,1193.2 1191.6,1193.2 1194.6,1193.2 1197.6,1193.2 1200.6,1193.3 1203.7,1193.3 1206.7,1193.3 1209.7,1193.3 1212.7,1193.3 1215.7,1193.3 1218.7,1193.3 1221.7,1193.3 1224.8,1193.3 1227.8,1193.3 1230.8,1193.3 1233.8,1193.3 1236.8,1193.3 1239.8,1193.4 1242.8,1193.4 1245.9,1193.4 1248.9,1193.4 1251.9,1193.4 1254.9,1193.4 1257.9,1193.4 1260.9,1193.4 1263.9,1193.4 1267.0,1193.4 1270.0,1193.4 1273.0,1193.4 1276.0,1193.4 1279.0,1193.4 1282.0,1193.5 1285.0,1193.5 1288.1,1193.5 1291.1,1193.5 1294.1,1193.5 1297.1,1193.5 1300.1,1193.5 1303.1,1193.5 1306.1,1193.5 1309.2,1193.5 1312.2,1193.5 1315.2,1193.5 1318.2,1193.5 1321.2,1193.6 1324.2,1193.6 1327.2,1193.6 1330.3,1193.6 1333.3,1193.6 1336.3,1193.6 1339.3,1193.6 1342.3,1193.6 1345.3,1193.6 1348.3,1193.6 1351.3,1193.7 1354.4,1193.7 1357.4,1193.7 1360.4,1193.7 1363.4,1193.7 1366.4,1193.7 1369.4,1193.7 1372.4,1193.7 1375.5,1193.7 1378.5,1193.7 1381.5,1193.8 1384.5,1193.8 1387.5,1193.8 1390.5,1193.8 1393.5,1193.8 1396.6,1193.8 1399.6,1193.8 1402.6,1193.8 1405.6,1193.8 1408.6,1193.8 1411.6,1193.8 1414.6,1193.9 1417.7,1193.9 1420.7,1193.9 1423.7,1193.9 1426.7,1193.9 1429.7,1193.9 1432.7,1193.9 1435.7,1193.9 1438.8,1193.9 1441.8,1193.9 1444.8,1193.9 1447.8,1193.9 1450.8,1193.9 1453.8,1194.0 1456.8,1194.0 1459.9,1194.0 1462.9,1194.0 1465.9,1194.0 1468.9,1194.0 1471.9,1194.0 1474.9,1194.0 1477.9,1194.0 1480.9,1194.0 1484.0,1194.0 1487.0,1194.0 1490.0,1194.0 1493.0,1194.0 1496.0,1194.0 1499.0,1194.0 1502.0,1194.0 1505.1,1194.0 1508.1,1194.0 1511.1,1194.0 1514.1,1194.0 1517.1,1194.0 1520.1,1194.0 1523.1,1194.0 1526.2,1194.0 1529.2,1194.0 1532.2,1194.0 1535.2,1194.0 1538.2,1194.0 1541.2,1194.0 1544.2,1194.0 1547.3,1194.0 1550.3,1194.0 1553.3,1194.0 1556.3,1194.0 1559.3,1194.0 1562.3,1194.0 1565.3,1194.0 1568.4,1194.0 1571.4,1194.0 1574.4,1194.0 1577.4,1194.0 1580.4,1194.0 1583.4,1194.0 1586.4,1194.0 1589.5,1194.0 1592.5,1194.0 1595.5,1194.0 1598.5,1194.0 1601.5,1194.0 1604.5,1194.0 1607.5,1194.0 1610.6,1194.0 1613.6,1194.0 1616.6,1194.0 1619.6,1194.0 1622.6,1194.0 1625.6,1194.0 1628.6,1194.0 1631.6,1194.0 1634.7,1194.0 1637.7,1194.0 1640.7,1194.0 1643.7,1194.0 1646.7,1194.0 1649.7,1194.0 1652.7,1194.0 1655.8,1194.0 1658.8,1194.0 1661.8,1194.0 1664.8,1194.0 1667.8,1194.0 1670.8,1194.0 1673.8,1194.0 1676.9,1194.0 1679.9,1194.0 1682.9,1194.0 1685.9,1194.0 1688.9,1194.0 1691.9,1194.0 1694.9,1194.0 1698.0,1194.0 1701.0,1194.0 1704.0,1194.0 1707.0,1194.0"/>
</g>
<line x1="908.5" y1="197.9" x2="908.5" y2="1200.7" stroke="#ff0000" stroke-width="5" stroke-dasharray="20 16.42" shape-rendering="crispEdges"/>
<line x1="1212.5" y1="194.8" x2="1212.5" y2="1197.6" stroke="#ff0000" stroke-width="5" stroke-dasharray="20 16.42" shape-rendering="crispEdges"/>
<rect x="1427" y="140.0" width="158" height="5" fill="#000000" shape-rendering="crispEdges"/>
<text transform="translate(1602.50 161.50) scale(0.7850 0.8400)" >C001</text>
<rect x="1427" y="240.0" width="158" height="5" fill="#9400ff" shape-rendering="crispEdges"/>
<text transform="translate(1602.50 261.50) scale(0.7850 0.8400)" >CMC</text>
<rect x="1427" y="341.0" width="158" height="5" fill="#00ff00" shape-rendering="crispEdges"/>
<text transform="translate(1602.50 362.50) scale(0.7850 0.8400)" >GA</text>
<rect x="1427" y="442.0" width="158" height="5" fill="#0000ff" shape-rendering="crispEdges"/>
<text transform="translate(1602.50 463.50) scale(0.7850 0.8400)" >ALG</text>
<rect x="1427" y="542.0" width="158" height="5" fill="#00ffff" shape-rendering="crispEdges"/>
<text transform="translate(1602.50 563.50) scale(0.7850 0.8400)" >CS</text>
<rect x="1427" y="643.0" width="158" height="5" fill="#ff00ff" shape-rendering="crispEdges"/>
<text transform="translate(1602.50 664.50) scale(0.7850 0.8400)" >SC</text>
<rect x="1427" y="744.0" width="158" height="5" fill="#ffff00" shape-rendering="crispEdges"/>
<text transform="translate(1602.50 765.50) scale(0.7850 0.8400)" >MD</text>
<rect x="1427" y="845.0" width="158" height="5" fill="#808000" shape-rendering="crispEdges"/>
<text transform="translate(0 866.50) scale(0.78 0.84)"><tspan x="2051.4" font-style="italic" textLength="56" lengthAdjust="spacingAndGlyphs">β</tspan><tspan x="2105.6" font-weight="bold">-</tspan><tspan x="2138.1">CD</tspan></text>
<text transform="translate(135.27 191.65) scale(0.7664 0.8500)" >4.5</text>
<text transform="translate(133.81 535.30) scale(0.7983 0.8478)" >3.0</text>
<text transform="translate(137.13 877.24) scale(0.7518 0.8567)" >1.5</text>
<text transform="translate(134.63 1219.90) scale(0.7923 0.8478)" >0.0</text>
<text transform="translate(365.22 1294.12) scale(0.7944 0.8418)" >200</text>
<text transform="translate(685.93 1294.12) scale(0.7915 0.8418)" >250</text>
<text transform="translate(1006.84 1294.12) scale(0.7929 0.8418)" >300</text>
<text transform="translate(1326.82 1294.12) scale(0.7965 0.8418)" >350</text>
<text transform="translate(1649.16 1294.12) scale(0.7708 0.8418)" >400</text>
<text transform="translate(765.00 1398.50) scale(0.8626 0.9144)" >Wavelength (nm)</text>
<text transform="translate(106.17 840.91) rotate(-90) scale(0.9118 0.9314)">Absorbance</text>
</svg></body></html>
